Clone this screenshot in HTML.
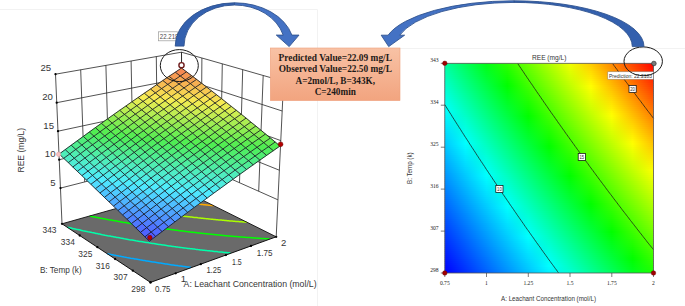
<!DOCTYPE html><html><head><meta charset="utf-8"><style>html,body{margin:0;padding:0;background:#fff;overflow:hidden}svg{display:block}</style></head><body><svg width="685" height="306" viewBox="0 0 685 306"><defs><linearGradient id="g0"><stop offset="0.0" stop-color="#00ffa1"/><stop offset="0.1" stop-color="#00ff5c"/><stop offset="0.2" stop-color="#00ff16"/><stop offset="0.3" stop-color="#2cff00"/><stop offset="0.4" stop-color="#6dff00"/><stop offset="0.5" stop-color="#aeff00"/><stop offset="0.6" stop-color="#f0ff00"/><stop offset="0.7" stop-color="#ffcc00"/><stop offset="0.8" stop-color="#ff8900"/><stop offset="0.9" stop-color="#ff4600"/><stop offset="1.0" stop-color="#ff0200"/></linearGradient><linearGradient id="g1"><stop offset="0.0" stop-color="#00ffa5"/><stop offset="0.1" stop-color="#00ff60"/><stop offset="0.2" stop-color="#00ff1b"/><stop offset="0.3" stop-color="#28ff00"/><stop offset="0.4" stop-color="#68ff00"/><stop offset="0.5" stop-color="#aaff00"/><stop offset="0.6" stop-color="#ecff00"/><stop offset="0.7" stop-color="#ffd000"/><stop offset="0.8" stop-color="#ff8e00"/><stop offset="0.9" stop-color="#ff4a00"/><stop offset="1.0" stop-color="#ff0700"/></linearGradient><linearGradient id="g2"><stop offset="0.0" stop-color="#00ffa9"/><stop offset="0.1" stop-color="#00ff64"/><stop offset="0.2" stop-color="#00ff1f"/><stop offset="0.3" stop-color="#24ff00"/><stop offset="0.4" stop-color="#64ff00"/><stop offset="0.5" stop-color="#a5ff00"/><stop offset="0.6" stop-color="#e7ff00"/><stop offset="0.7" stop-color="#ffd500"/><stop offset="0.8" stop-color="#ff9200"/><stop offset="0.9" stop-color="#ff4f00"/><stop offset="1.0" stop-color="#ff0c00"/></linearGradient><linearGradient id="g3"><stop offset="0.0" stop-color="#00ffad"/><stop offset="0.1" stop-color="#00ff69"/><stop offset="0.2" stop-color="#00ff23"/><stop offset="0.3" stop-color="#1fff00"/><stop offset="0.4" stop-color="#60ff00"/><stop offset="0.5" stop-color="#a1ff00"/><stop offset="0.6" stop-color="#e3ff00"/><stop offset="0.7" stop-color="#ffd900"/><stop offset="0.8" stop-color="#ff9700"/><stop offset="0.9" stop-color="#ff5400"/><stop offset="1.0" stop-color="#ff1000"/></linearGradient><linearGradient id="g4"><stop offset="0.0" stop-color="#00ffb1"/><stop offset="0.1" stop-color="#00ff6d"/><stop offset="0.2" stop-color="#00ff28"/><stop offset="0.3" stop-color="#1bff00"/><stop offset="0.4" stop-color="#5cff00"/><stop offset="0.5" stop-color="#9dff00"/><stop offset="0.6" stop-color="#deff00"/><stop offset="0.7" stop-color="#ffde00"/><stop offset="0.8" stop-color="#ff9c00"/><stop offset="0.9" stop-color="#ff5900"/><stop offset="1.0" stop-color="#ff1500"/></linearGradient><linearGradient id="g5"><stop offset="0.0" stop-color="#00ffb5"/><stop offset="0.1" stop-color="#00ff71"/><stop offset="0.2" stop-color="#00ff2c"/><stop offset="0.3" stop-color="#17ff00"/><stop offset="0.4" stop-color="#58ff00"/><stop offset="0.5" stop-color="#98ff00"/><stop offset="0.6" stop-color="#daff00"/><stop offset="0.7" stop-color="#ffe200"/><stop offset="0.8" stop-color="#ffa000"/><stop offset="0.9" stop-color="#ff5d00"/><stop offset="1.0" stop-color="#ff1a00"/></linearGradient><linearGradient id="g6"><stop offset="0.0" stop-color="#00ffb9"/><stop offset="0.1" stop-color="#00ff75"/><stop offset="0.2" stop-color="#00ff30"/><stop offset="0.3" stop-color="#13ff00"/><stop offset="0.4" stop-color="#53ff00"/><stop offset="0.5" stop-color="#94ff00"/><stop offset="0.6" stop-color="#d5ff00"/><stop offset="0.7" stop-color="#ffe700"/><stop offset="0.8" stop-color="#ffa500"/><stop offset="0.9" stop-color="#ff6200"/><stop offset="1.0" stop-color="#ff1f00"/></linearGradient><linearGradient id="g7"><stop offset="0.0" stop-color="#00ffbd"/><stop offset="0.1" stop-color="#00ff79"/><stop offset="0.2" stop-color="#00ff35"/><stop offset="0.3" stop-color="#0fff00"/><stop offset="0.4" stop-color="#4fff00"/><stop offset="0.5" stop-color="#90ff00"/><stop offset="0.6" stop-color="#d1ff00"/><stop offset="0.7" stop-color="#ffeb00"/><stop offset="0.8" stop-color="#ffa900"/><stop offset="0.9" stop-color="#ff6700"/><stop offset="1.0" stop-color="#ff2400"/></linearGradient><linearGradient id="g8"><stop offset="0.0" stop-color="#00ffc2"/><stop offset="0.1" stop-color="#00ff7e"/><stop offset="0.2" stop-color="#00ff39"/><stop offset="0.3" stop-color="#0bff00"/><stop offset="0.4" stop-color="#4bff00"/><stop offset="0.5" stop-color="#8cff00"/><stop offset="0.6" stop-color="#cdff00"/><stop offset="0.7" stop-color="#fff000"/><stop offset="0.8" stop-color="#ffae00"/><stop offset="0.9" stop-color="#ff6c00"/><stop offset="1.0" stop-color="#ff2900"/></linearGradient><linearGradient id="g9"><stop offset="0.0" stop-color="#00ffc6"/><stop offset="0.1" stop-color="#00ff82"/><stop offset="0.2" stop-color="#00ff3d"/><stop offset="0.3" stop-color="#07ff00"/><stop offset="0.4" stop-color="#47ff00"/><stop offset="0.5" stop-color="#87ff00"/><stop offset="0.6" stop-color="#c8ff00"/><stop offset="0.7" stop-color="#fff500"/><stop offset="0.8" stop-color="#ffb300"/><stop offset="0.9" stop-color="#ff7000"/><stop offset="1.0" stop-color="#ff2e00"/></linearGradient><linearGradient id="g10"><stop offset="0.0" stop-color="#00ffca"/><stop offset="0.1" stop-color="#00ff86"/><stop offset="0.2" stop-color="#00ff42"/><stop offset="0.3" stop-color="#03ff00"/><stop offset="0.4" stop-color="#43ff00"/><stop offset="0.5" stop-color="#83ff00"/><stop offset="0.6" stop-color="#c4ff00"/><stop offset="0.7" stop-color="#fff900"/><stop offset="0.8" stop-color="#ffb700"/><stop offset="0.9" stop-color="#ff7500"/><stop offset="1.0" stop-color="#ff3300"/></linearGradient><linearGradient id="g11"><stop offset="0.0" stop-color="#00ffce"/><stop offset="0.1" stop-color="#00ff8a"/><stop offset="0.2" stop-color="#00ff46"/><stop offset="0.3" stop-color="#00ff01"/><stop offset="0.4" stop-color="#3fff00"/><stop offset="0.5" stop-color="#7fff00"/><stop offset="0.6" stop-color="#bfff00"/><stop offset="0.7" stop-color="#fffe00"/><stop offset="0.8" stop-color="#ffbc00"/><stop offset="0.9" stop-color="#ff7a00"/><stop offset="1.0" stop-color="#ff3700"/></linearGradient><linearGradient id="g12"><stop offset="0.0" stop-color="#00ffd2"/><stop offset="0.1" stop-color="#00ff8e"/><stop offset="0.2" stop-color="#00ff4a"/><stop offset="0.3" stop-color="#00ff06"/><stop offset="0.4" stop-color="#3aff00"/><stop offset="0.5" stop-color="#7aff00"/><stop offset="0.6" stop-color="#bbff00"/><stop offset="0.7" stop-color="#fcff00"/><stop offset="0.8" stop-color="#ffc100"/><stop offset="0.9" stop-color="#ff7f00"/><stop offset="1.0" stop-color="#ff3c00"/></linearGradient><linearGradient id="g13"><stop offset="0.0" stop-color="#00ffd6"/><stop offset="0.1" stop-color="#00ff92"/><stop offset="0.2" stop-color="#00ff4e"/><stop offset="0.3" stop-color="#00ff0a"/><stop offset="0.4" stop-color="#36ff00"/><stop offset="0.5" stop-color="#76ff00"/><stop offset="0.6" stop-color="#b7ff00"/><stop offset="0.7" stop-color="#f7ff00"/><stop offset="0.8" stop-color="#ffc500"/><stop offset="0.9" stop-color="#ff8300"/><stop offset="1.0" stop-color="#ff4100"/></linearGradient><linearGradient id="g14"><stop offset="0.0" stop-color="#00ffda"/><stop offset="0.1" stop-color="#00ff96"/><stop offset="0.2" stop-color="#00ff53"/><stop offset="0.3" stop-color="#00ff0e"/><stop offset="0.4" stop-color="#32ff00"/><stop offset="0.5" stop-color="#72ff00"/><stop offset="0.6" stop-color="#b2ff00"/><stop offset="0.7" stop-color="#f3ff00"/><stop offset="0.8" stop-color="#ffca00"/><stop offset="0.9" stop-color="#ff8800"/><stop offset="1.0" stop-color="#ff4600"/></linearGradient><linearGradient id="g15"><stop offset="0.0" stop-color="#00ffde"/><stop offset="0.1" stop-color="#00ff9b"/><stop offset="0.2" stop-color="#00ff57"/><stop offset="0.3" stop-color="#00ff13"/><stop offset="0.4" stop-color="#2eff00"/><stop offset="0.5" stop-color="#6eff00"/><stop offset="0.6" stop-color="#aeff00"/><stop offset="0.7" stop-color="#eeff00"/><stop offset="0.8" stop-color="#ffce00"/><stop offset="0.9" stop-color="#ff8d00"/><stop offset="1.0" stop-color="#ff4b00"/></linearGradient><linearGradient id="g16"><stop offset="0.0" stop-color="#00ffe2"/><stop offset="0.1" stop-color="#00ff9f"/><stop offset="0.2" stop-color="#00ff5b"/><stop offset="0.3" stop-color="#00ff17"/><stop offset="0.4" stop-color="#2aff00"/><stop offset="0.5" stop-color="#69ff00"/><stop offset="0.6" stop-color="#a9ff00"/><stop offset="0.7" stop-color="#eaff00"/><stop offset="0.8" stop-color="#ffd300"/><stop offset="0.9" stop-color="#ff9200"/><stop offset="1.0" stop-color="#ff5000"/></linearGradient><linearGradient id="g17"><stop offset="0.0" stop-color="#00ffe6"/><stop offset="0.1" stop-color="#00ffa3"/><stop offset="0.2" stop-color="#00ff5f"/><stop offset="0.3" stop-color="#00ff1b"/><stop offset="0.4" stop-color="#26ff00"/><stop offset="0.5" stop-color="#65ff00"/><stop offset="0.6" stop-color="#a5ff00"/><stop offset="0.7" stop-color="#e6ff00"/><stop offset="0.8" stop-color="#ffd800"/><stop offset="0.9" stop-color="#ff9600"/><stop offset="1.0" stop-color="#ff5400"/></linearGradient><linearGradient id="g18"><stop offset="0.0" stop-color="#00ffea"/><stop offset="0.1" stop-color="#00ffa7"/><stop offset="0.2" stop-color="#00ff64"/><stop offset="0.3" stop-color="#00ff20"/><stop offset="0.4" stop-color="#22ff00"/><stop offset="0.5" stop-color="#61ff00"/><stop offset="0.6" stop-color="#a1ff00"/><stop offset="0.7" stop-color="#e1ff00"/><stop offset="0.8" stop-color="#ffdc00"/><stop offset="0.9" stop-color="#ff9b00"/><stop offset="1.0" stop-color="#ff5900"/></linearGradient><linearGradient id="g19"><stop offset="0.0" stop-color="#00ffee"/><stop offset="0.1" stop-color="#00ffab"/><stop offset="0.2" stop-color="#00ff68"/><stop offset="0.3" stop-color="#00ff24"/><stop offset="0.4" stop-color="#1dff00"/><stop offset="0.5" stop-color="#5dff00"/><stop offset="0.6" stop-color="#9cff00"/><stop offset="0.7" stop-color="#ddff00"/><stop offset="0.8" stop-color="#ffe100"/><stop offset="0.9" stop-color="#ffa000"/><stop offset="1.0" stop-color="#ff5e00"/></linearGradient><linearGradient id="g20"><stop offset="0.0" stop-color="#00fff2"/><stop offset="0.1" stop-color="#00ffaf"/><stop offset="0.2" stop-color="#00ff6c"/><stop offset="0.3" stop-color="#00ff28"/><stop offset="0.4" stop-color="#19ff00"/><stop offset="0.5" stop-color="#58ff00"/><stop offset="0.6" stop-color="#98ff00"/><stop offset="0.7" stop-color="#d8ff00"/><stop offset="0.8" stop-color="#ffe500"/><stop offset="0.9" stop-color="#ffa400"/><stop offset="1.0" stop-color="#ff6300"/></linearGradient><linearGradient id="g21"><stop offset="0.0" stop-color="#00fff6"/><stop offset="0.1" stop-color="#00ffb3"/><stop offset="0.2" stop-color="#00ff70"/><stop offset="0.3" stop-color="#00ff2d"/><stop offset="0.4" stop-color="#15ff00"/><stop offset="0.5" stop-color="#54ff00"/><stop offset="0.6" stop-color="#94ff00"/><stop offset="0.7" stop-color="#d4ff00"/><stop offset="0.8" stop-color="#ffea00"/><stop offset="0.9" stop-color="#ffa900"/><stop offset="1.0" stop-color="#ff6800"/></linearGradient><linearGradient id="g22"><stop offset="0.0" stop-color="#00fff9"/><stop offset="0.1" stop-color="#00ffb7"/><stop offset="0.2" stop-color="#00ff74"/><stop offset="0.3" stop-color="#00ff31"/><stop offset="0.4" stop-color="#11ff00"/><stop offset="0.5" stop-color="#50ff00"/><stop offset="0.6" stop-color="#8fff00"/><stop offset="0.7" stop-color="#cfff00"/><stop offset="0.8" stop-color="#ffee00"/><stop offset="0.9" stop-color="#ffae00"/><stop offset="1.0" stop-color="#ff6c00"/></linearGradient><linearGradient id="g23"><stop offset="0.0" stop-color="#00fffd"/><stop offset="0.1" stop-color="#00ffbb"/><stop offset="0.2" stop-color="#00ff79"/><stop offset="0.3" stop-color="#00ff35"/><stop offset="0.4" stop-color="#0dff00"/><stop offset="0.5" stop-color="#4cff00"/><stop offset="0.6" stop-color="#8bff00"/><stop offset="0.7" stop-color="#cbff00"/><stop offset="0.8" stop-color="#fff300"/><stop offset="0.9" stop-color="#ffb200"/><stop offset="1.0" stop-color="#ff7100"/></linearGradient><linearGradient id="g24"><stop offset="0.0" stop-color="#00fdff"/><stop offset="0.1" stop-color="#00ffbf"/><stop offset="0.2" stop-color="#00ff7d"/><stop offset="0.3" stop-color="#00ff3a"/><stop offset="0.4" stop-color="#09ff00"/><stop offset="0.5" stop-color="#48ff00"/><stop offset="0.6" stop-color="#87ff00"/><stop offset="0.7" stop-color="#c6ff00"/><stop offset="0.8" stop-color="#fff800"/><stop offset="0.9" stop-color="#ffb700"/><stop offset="1.0" stop-color="#ff7600"/></linearGradient><linearGradient id="g25"><stop offset="0.0" stop-color="#00faff"/><stop offset="0.1" stop-color="#00ffc3"/><stop offset="0.2" stop-color="#00ff81"/><stop offset="0.3" stop-color="#00ff3e"/><stop offset="0.4" stop-color="#05ff00"/><stop offset="0.5" stop-color="#43ff00"/><stop offset="0.6" stop-color="#82ff00"/><stop offset="0.7" stop-color="#c2ff00"/><stop offset="0.8" stop-color="#fffc00"/><stop offset="0.9" stop-color="#ffbc00"/><stop offset="1.0" stop-color="#ff7b00"/></linearGradient><linearGradient id="g26"><stop offset="0.0" stop-color="#00f6ff"/><stop offset="0.1" stop-color="#00ffc7"/><stop offset="0.2" stop-color="#00ff85"/><stop offset="0.3" stop-color="#00ff42"/><stop offset="0.4" stop-color="#01ff00"/><stop offset="0.5" stop-color="#3fff00"/><stop offset="0.6" stop-color="#7eff00"/><stop offset="0.7" stop-color="#bdff00"/><stop offset="0.8" stop-color="#fdff00"/><stop offset="0.9" stop-color="#ffc000"/><stop offset="1.0" stop-color="#ff8000"/></linearGradient><linearGradient id="g27"><stop offset="0.0" stop-color="#00f3ff"/><stop offset="0.1" stop-color="#00ffcc"/><stop offset="0.2" stop-color="#00ff89"/><stop offset="0.3" stop-color="#00ff47"/><stop offset="0.4" stop-color="#00ff04"/><stop offset="0.5" stop-color="#3bff00"/><stop offset="0.6" stop-color="#7aff00"/><stop offset="0.7" stop-color="#b9ff00"/><stop offset="0.8" stop-color="#f9ff00"/><stop offset="0.9" stop-color="#ffc500"/><stop offset="1.0" stop-color="#ff8400"/></linearGradient><linearGradient id="g28"><stop offset="0.0" stop-color="#00f0ff"/><stop offset="0.1" stop-color="#00ffd0"/><stop offset="0.2" stop-color="#00ff8e"/><stop offset="0.3" stop-color="#00ff4b"/><stop offset="0.4" stop-color="#00ff08"/><stop offset="0.5" stop-color="#37ff00"/><stop offset="0.6" stop-color="#76ff00"/><stop offset="0.7" stop-color="#b5ff00"/><stop offset="0.8" stop-color="#f4ff00"/><stop offset="0.9" stop-color="#ffca00"/><stop offset="1.0" stop-color="#ff8900"/></linearGradient><linearGradient id="g29"><stop offset="0.0" stop-color="#00ecff"/><stop offset="0.1" stop-color="#00ffd4"/><stop offset="0.2" stop-color="#00ff92"/><stop offset="0.3" stop-color="#00ff4f"/><stop offset="0.4" stop-color="#00ff0c"/><stop offset="0.5" stop-color="#33ff00"/><stop offset="0.6" stop-color="#71ff00"/><stop offset="0.7" stop-color="#b0ff00"/><stop offset="0.8" stop-color="#f0ff00"/><stop offset="0.9" stop-color="#ffce00"/><stop offset="1.0" stop-color="#ff8e00"/></linearGradient><linearGradient id="g30"><stop offset="0.0" stop-color="#00e9ff"/><stop offset="0.1" stop-color="#00ffd8"/><stop offset="0.2" stop-color="#00ff96"/><stop offset="0.3" stop-color="#00ff54"/><stop offset="0.4" stop-color="#00ff11"/><stop offset="0.5" stop-color="#2fff00"/><stop offset="0.6" stop-color="#6dff00"/><stop offset="0.7" stop-color="#acff00"/><stop offset="0.8" stop-color="#ebff00"/><stop offset="0.9" stop-color="#ffd300"/><stop offset="1.0" stop-color="#ff9300"/></linearGradient><linearGradient id="g31"><stop offset="0.0" stop-color="#00e6ff"/><stop offset="0.1" stop-color="#00ffdc"/><stop offset="0.2" stop-color="#00ff9a"/><stop offset="0.3" stop-color="#00ff58"/><stop offset="0.4" stop-color="#00ff15"/><stop offset="0.5" stop-color="#2aff00"/><stop offset="0.6" stop-color="#69ff00"/><stop offset="0.7" stop-color="#a7ff00"/><stop offset="0.8" stop-color="#e7ff00"/><stop offset="0.9" stop-color="#ffd800"/><stop offset="1.0" stop-color="#ff9700"/></linearGradient><linearGradient id="g32"><stop offset="0.0" stop-color="#00e2ff"/><stop offset="0.1" stop-color="#00ffe0"/><stop offset="0.2" stop-color="#00ff9e"/><stop offset="0.3" stop-color="#00ff5c"/><stop offset="0.4" stop-color="#00ff1a"/><stop offset="0.5" stop-color="#26ff00"/><stop offset="0.6" stop-color="#64ff00"/><stop offset="0.7" stop-color="#a3ff00"/><stop offset="0.8" stop-color="#e2ff00"/><stop offset="0.9" stop-color="#ffdc00"/><stop offset="1.0" stop-color="#ff9c00"/></linearGradient><linearGradient id="g33"><stop offset="0.0" stop-color="#00dfff"/><stop offset="0.1" stop-color="#00ffe4"/><stop offset="0.2" stop-color="#00ffa2"/><stop offset="0.3" stop-color="#00ff60"/><stop offset="0.4" stop-color="#00ff1e"/><stop offset="0.5" stop-color="#22ff00"/><stop offset="0.6" stop-color="#60ff00"/><stop offset="0.7" stop-color="#9fff00"/><stop offset="0.8" stop-color="#deff00"/><stop offset="0.9" stop-color="#ffe100"/><stop offset="1.0" stop-color="#ffa100"/></linearGradient><linearGradient id="g34"><stop offset="0.0" stop-color="#00dcff"/><stop offset="0.1" stop-color="#00ffe8"/><stop offset="0.2" stop-color="#00ffa6"/><stop offset="0.3" stop-color="#00ff65"/><stop offset="0.4" stop-color="#00ff22"/><stop offset="0.5" stop-color="#1eff00"/><stop offset="0.6" stop-color="#5cff00"/><stop offset="0.7" stop-color="#9aff00"/><stop offset="0.8" stop-color="#d9ff00"/><stop offset="0.9" stop-color="#ffe500"/><stop offset="1.0" stop-color="#ffa500"/></linearGradient><linearGradient id="g35"><stop offset="0.0" stop-color="#00d8ff"/><stop offset="0.1" stop-color="#00ffec"/><stop offset="0.2" stop-color="#00ffab"/><stop offset="0.3" stop-color="#00ff69"/><stop offset="0.4" stop-color="#00ff27"/><stop offset="0.5" stop-color="#1aff00"/><stop offset="0.6" stop-color="#58ff00"/><stop offset="0.7" stop-color="#96ff00"/><stop offset="0.8" stop-color="#d5ff00"/><stop offset="0.9" stop-color="#ffea00"/><stop offset="1.0" stop-color="#ffaa00"/></linearGradient><linearGradient id="g36"><stop offset="0.0" stop-color="#00d5ff"/><stop offset="0.1" stop-color="#00fff0"/><stop offset="0.2" stop-color="#00ffaf"/><stop offset="0.3" stop-color="#00ff6d"/><stop offset="0.4" stop-color="#00ff2b"/><stop offset="0.5" stop-color="#16ff00"/><stop offset="0.6" stop-color="#53ff00"/><stop offset="0.7" stop-color="#92ff00"/><stop offset="0.8" stop-color="#d0ff00"/><stop offset="0.9" stop-color="#ffef00"/><stop offset="1.0" stop-color="#ffaf00"/></linearGradient><linearGradient id="g37"><stop offset="0.0" stop-color="#00d2ff"/><stop offset="0.1" stop-color="#00fff4"/><stop offset="0.2" stop-color="#00ffb3"/><stop offset="0.3" stop-color="#00ff71"/><stop offset="0.4" stop-color="#00ff2f"/><stop offset="0.5" stop-color="#12ff00"/><stop offset="0.6" stop-color="#4fff00"/><stop offset="0.7" stop-color="#8dff00"/><stop offset="0.8" stop-color="#ccff00"/><stop offset="0.9" stop-color="#fff300"/><stop offset="1.0" stop-color="#ffb400"/></linearGradient><linearGradient id="g38"><stop offset="0.0" stop-color="#00ceff"/><stop offset="0.1" stop-color="#00fff8"/><stop offset="0.2" stop-color="#00ffb7"/><stop offset="0.3" stop-color="#00ff76"/><stop offset="0.4" stop-color="#00ff34"/><stop offset="0.5" stop-color="#0dff00"/><stop offset="0.6" stop-color="#4bff00"/><stop offset="0.7" stop-color="#89ff00"/><stop offset="0.8" stop-color="#c7ff00"/><stop offset="0.9" stop-color="#fff800"/><stop offset="1.0" stop-color="#ffb800"/></linearGradient><linearGradient id="g39"><stop offset="0.0" stop-color="#00cbff"/><stop offset="0.1" stop-color="#00fffc"/><stop offset="0.2" stop-color="#00ffbb"/><stop offset="0.3" stop-color="#00ff7a"/><stop offset="0.4" stop-color="#00ff38"/><stop offset="0.5" stop-color="#09ff00"/><stop offset="0.6" stop-color="#47ff00"/><stop offset="0.7" stop-color="#85ff00"/><stop offset="0.8" stop-color="#c3ff00"/><stop offset="0.9" stop-color="#fffc00"/><stop offset="1.0" stop-color="#ffbd00"/></linearGradient><linearGradient id="g40"><stop offset="0.0" stop-color="#00c8ff"/><stop offset="0.1" stop-color="#00feff"/><stop offset="0.2" stop-color="#00ffbf"/><stop offset="0.3" stop-color="#00ff7e"/><stop offset="0.4" stop-color="#00ff3c"/><stop offset="0.5" stop-color="#05ff00"/><stop offset="0.6" stop-color="#42ff00"/><stop offset="0.7" stop-color="#80ff00"/><stop offset="0.8" stop-color="#beff00"/><stop offset="0.9" stop-color="#fdff00"/><stop offset="1.0" stop-color="#ffc200"/></linearGradient><linearGradient id="g41"><stop offset="0.0" stop-color="#00c5ff"/><stop offset="0.1" stop-color="#00fbff"/><stop offset="0.2" stop-color="#00ffc3"/><stop offset="0.3" stop-color="#00ff82"/><stop offset="0.4" stop-color="#00ff41"/><stop offset="0.5" stop-color="#01ff00"/><stop offset="0.6" stop-color="#3eff00"/><stop offset="0.7" stop-color="#7cff00"/><stop offset="0.8" stop-color="#baff00"/><stop offset="0.9" stop-color="#f9ff00"/><stop offset="1.0" stop-color="#ffc600"/></linearGradient><linearGradient id="g42"><stop offset="0.0" stop-color="#00c1ff"/><stop offset="0.1" stop-color="#00f8ff"/><stop offset="0.2" stop-color="#00ffc7"/><stop offset="0.3" stop-color="#00ff86"/><stop offset="0.4" stop-color="#00ff45"/><stop offset="0.5" stop-color="#00ff03"/><stop offset="0.6" stop-color="#3aff00"/><stop offset="0.7" stop-color="#78ff00"/><stop offset="0.8" stop-color="#b6ff00"/><stop offset="0.9" stop-color="#f4ff00"/><stop offset="1.0" stop-color="#ffcb00"/></linearGradient><linearGradient id="g43"><stop offset="0.0" stop-color="#00beff"/><stop offset="0.1" stop-color="#00f4ff"/><stop offset="0.2" stop-color="#00ffcb"/><stop offset="0.3" stop-color="#00ff8b"/><stop offset="0.4" stop-color="#00ff49"/><stop offset="0.5" stop-color="#00ff08"/><stop offset="0.6" stop-color="#36ff00"/><stop offset="0.7" stop-color="#73ff00"/><stop offset="0.8" stop-color="#b1ff00"/><stop offset="0.9" stop-color="#efff00"/><stop offset="1.0" stop-color="#ffd000"/></linearGradient><linearGradient id="g44"><stop offset="0.0" stop-color="#00bbff"/><stop offset="0.1" stop-color="#00f1ff"/><stop offset="0.2" stop-color="#00ffcf"/><stop offset="0.3" stop-color="#00ff8f"/><stop offset="0.4" stop-color="#00ff4e"/><stop offset="0.5" stop-color="#00ff0c"/><stop offset="0.6" stop-color="#32ff00"/><stop offset="0.7" stop-color="#6fff00"/><stop offset="0.8" stop-color="#adff00"/><stop offset="0.9" stop-color="#ebff00"/><stop offset="1.0" stop-color="#ffd400"/></linearGradient><linearGradient id="g45"><stop offset="0.0" stop-color="#00b8ff"/><stop offset="0.1" stop-color="#00eeff"/><stop offset="0.2" stop-color="#00ffd3"/><stop offset="0.3" stop-color="#00ff93"/><stop offset="0.4" stop-color="#00ff52"/><stop offset="0.5" stop-color="#00ff11"/><stop offset="0.6" stop-color="#2dff00"/><stop offset="0.7" stop-color="#6bff00"/><stop offset="0.8" stop-color="#a8ff00"/><stop offset="0.9" stop-color="#e6ff00"/><stop offset="1.0" stop-color="#ffd900"/></linearGradient><linearGradient id="g46"><stop offset="0.0" stop-color="#00b4ff"/><stop offset="0.1" stop-color="#00eaff"/><stop offset="0.2" stop-color="#00ffd8"/><stop offset="0.3" stop-color="#00ff97"/><stop offset="0.4" stop-color="#00ff56"/><stop offset="0.5" stop-color="#00ff15"/><stop offset="0.6" stop-color="#29ff00"/><stop offset="0.7" stop-color="#66ff00"/><stop offset="0.8" stop-color="#a4ff00"/><stop offset="0.9" stop-color="#e2ff00"/><stop offset="1.0" stop-color="#ffde00"/></linearGradient><linearGradient id="g47"><stop offset="0.0" stop-color="#00b1ff"/><stop offset="0.1" stop-color="#00e7ff"/><stop offset="0.2" stop-color="#00ffdc"/><stop offset="0.3" stop-color="#00ff9b"/><stop offset="0.4" stop-color="#00ff5b"/><stop offset="0.5" stop-color="#00ff1a"/><stop offset="0.6" stop-color="#25ff00"/><stop offset="0.7" stop-color="#62ff00"/><stop offset="0.8" stop-color="#9fff00"/><stop offset="0.9" stop-color="#ddff00"/><stop offset="1.0" stop-color="#ffe200"/></linearGradient><linearGradient id="g48"><stop offset="0.0" stop-color="#00aeff"/><stop offset="0.1" stop-color="#00e4ff"/><stop offset="0.2" stop-color="#00ffe0"/><stop offset="0.3" stop-color="#00ffa0"/><stop offset="0.4" stop-color="#00ff5f"/><stop offset="0.5" stop-color="#00ff1e"/><stop offset="0.6" stop-color="#21ff00"/><stop offset="0.7" stop-color="#5eff00"/><stop offset="0.8" stop-color="#9bff00"/><stop offset="0.9" stop-color="#d9ff00"/><stop offset="1.0" stop-color="#ffe700"/></linearGradient><linearGradient id="g49"><stop offset="0.0" stop-color="#00abff"/><stop offset="0.1" stop-color="#00e0ff"/><stop offset="0.2" stop-color="#00ffe4"/><stop offset="0.3" stop-color="#00ffa4"/><stop offset="0.4" stop-color="#00ff63"/><stop offset="0.5" stop-color="#00ff22"/><stop offset="0.6" stop-color="#1dff00"/><stop offset="0.7" stop-color="#59ff00"/><stop offset="0.8" stop-color="#97ff00"/><stop offset="0.9" stop-color="#d4ff00"/><stop offset="1.0" stop-color="#ffec00"/></linearGradient><linearGradient id="g50"><stop offset="0.0" stop-color="#00a7ff"/><stop offset="0.1" stop-color="#00ddff"/><stop offset="0.2" stop-color="#00ffe8"/><stop offset="0.3" stop-color="#00ffa8"/><stop offset="0.4" stop-color="#00ff68"/><stop offset="0.5" stop-color="#00ff27"/><stop offset="0.6" stop-color="#18ff00"/><stop offset="0.7" stop-color="#55ff00"/><stop offset="0.8" stop-color="#92ff00"/><stop offset="0.9" stop-color="#d0ff00"/><stop offset="1.0" stop-color="#fff000"/></linearGradient><linearGradient id="g51"><stop offset="0.0" stop-color="#00a4ff"/><stop offset="0.1" stop-color="#00daff"/><stop offset="0.2" stop-color="#00ffec"/><stop offset="0.3" stop-color="#00ffac"/><stop offset="0.4" stop-color="#00ff6c"/><stop offset="0.5" stop-color="#00ff2b"/><stop offset="0.6" stop-color="#14ff00"/><stop offset="0.7" stop-color="#51ff00"/><stop offset="0.8" stop-color="#8eff00"/><stop offset="0.9" stop-color="#cbff00"/><stop offset="1.0" stop-color="#fff500"/></linearGradient><linearGradient id="g52"><stop offset="0.0" stop-color="#00a1ff"/><stop offset="0.1" stop-color="#00d6ff"/><stop offset="0.2" stop-color="#00fff0"/><stop offset="0.3" stop-color="#00ffb0"/><stop offset="0.4" stop-color="#00ff70"/><stop offset="0.5" stop-color="#00ff30"/><stop offset="0.6" stop-color="#10ff00"/><stop offset="0.7" stop-color="#4dff00"/><stop offset="0.8" stop-color="#89ff00"/><stop offset="0.9" stop-color="#c7ff00"/><stop offset="1.0" stop-color="#fff900"/></linearGradient><linearGradient id="g53"><stop offset="0.0" stop-color="#009eff"/><stop offset="0.1" stop-color="#00d3ff"/><stop offset="0.2" stop-color="#00fff4"/><stop offset="0.3" stop-color="#00ffb4"/><stop offset="0.4" stop-color="#00ff74"/><stop offset="0.5" stop-color="#00ff34"/><stop offset="0.6" stop-color="#0cff00"/><stop offset="0.7" stop-color="#48ff00"/><stop offset="0.8" stop-color="#85ff00"/><stop offset="0.9" stop-color="#c2ff00"/><stop offset="1.0" stop-color="#fffe00"/></linearGradient><linearGradient id="g54"><stop offset="0.0" stop-color="#009bff"/><stop offset="0.1" stop-color="#00d0ff"/><stop offset="0.2" stop-color="#00fff8"/><stop offset="0.3" stop-color="#00ffb8"/><stop offset="0.4" stop-color="#00ff79"/><stop offset="0.5" stop-color="#00ff38"/><stop offset="0.6" stop-color="#08ff00"/><stop offset="0.7" stop-color="#44ff00"/><stop offset="0.8" stop-color="#81ff00"/><stop offset="0.9" stop-color="#beff00"/><stop offset="1.0" stop-color="#fbff00"/></linearGradient><linearGradient id="g55"><stop offset="0.0" stop-color="#0097ff"/><stop offset="0.1" stop-color="#00ccff"/><stop offset="0.2" stop-color="#00fffc"/><stop offset="0.3" stop-color="#00ffbd"/><stop offset="0.4" stop-color="#00ff7d"/><stop offset="0.5" stop-color="#00ff3d"/><stop offset="0.6" stop-color="#04ff00"/><stop offset="0.7" stop-color="#40ff00"/><stop offset="0.8" stop-color="#7cff00"/><stop offset="0.9" stop-color="#b9ff00"/><stop offset="1.0" stop-color="#f7ff00"/></linearGradient><linearGradient id="g56"><stop offset="0.0" stop-color="#0094ff"/><stop offset="0.1" stop-color="#00c9ff"/><stop offset="0.2" stop-color="#00feff"/><stop offset="0.3" stop-color="#00ffc1"/><stop offset="0.4" stop-color="#00ff81"/><stop offset="0.5" stop-color="#00ff41"/><stop offset="0.6" stop-color="#00ff00"/><stop offset="0.7" stop-color="#3cff00"/><stop offset="0.8" stop-color="#78ff00"/><stop offset="0.9" stop-color="#b5ff00"/><stop offset="1.0" stop-color="#f2ff00"/></linearGradient><linearGradient id="g57"><stop offset="0.0" stop-color="#0091ff"/><stop offset="0.1" stop-color="#00c6ff"/><stop offset="0.2" stop-color="#00fbff"/><stop offset="0.3" stop-color="#00ffc5"/><stop offset="0.4" stop-color="#00ff85"/><stop offset="0.5" stop-color="#00ff45"/><stop offset="0.6" stop-color="#00ff05"/><stop offset="0.7" stop-color="#37ff00"/><stop offset="0.8" stop-color="#74ff00"/><stop offset="0.9" stop-color="#b0ff00"/><stop offset="1.0" stop-color="#eeff00"/></linearGradient><linearGradient id="g58"><stop offset="0.0" stop-color="#008eff"/><stop offset="0.1" stop-color="#00c3ff"/><stop offset="0.2" stop-color="#00f8ff"/><stop offset="0.3" stop-color="#00ffc9"/><stop offset="0.4" stop-color="#00ff8a"/><stop offset="0.5" stop-color="#00ff4a"/><stop offset="0.6" stop-color="#00ff09"/><stop offset="0.7" stop-color="#33ff00"/><stop offset="0.8" stop-color="#6fff00"/><stop offset="0.9" stop-color="#acff00"/><stop offset="1.0" stop-color="#e9ff00"/></linearGradient><linearGradient id="g59"><stop offset="0.0" stop-color="#008bff"/><stop offset="0.1" stop-color="#00bfff"/><stop offset="0.2" stop-color="#00f4ff"/><stop offset="0.3" stop-color="#00ffcd"/><stop offset="0.4" stop-color="#00ff8e"/><stop offset="0.5" stop-color="#00ff4e"/><stop offset="0.6" stop-color="#00ff0e"/><stop offset="0.7" stop-color="#2fff00"/><stop offset="0.8" stop-color="#6bff00"/><stop offset="0.9" stop-color="#a7ff00"/><stop offset="1.0" stop-color="#e4ff00"/></linearGradient><linearGradient id="g60"><stop offset="0.0" stop-color="#0088ff"/><stop offset="0.1" stop-color="#00bcff"/><stop offset="0.2" stop-color="#00f1ff"/><stop offset="0.3" stop-color="#00ffd1"/><stop offset="0.4" stop-color="#00ff92"/><stop offset="0.5" stop-color="#00ff52"/><stop offset="0.6" stop-color="#00ff12"/><stop offset="0.7" stop-color="#2bff00"/><stop offset="0.8" stop-color="#67ff00"/><stop offset="0.9" stop-color="#a3ff00"/><stop offset="1.0" stop-color="#e0ff00"/></linearGradient><linearGradient id="g61"><stop offset="0.0" stop-color="#0084ff"/><stop offset="0.1" stop-color="#00b9ff"/><stop offset="0.2" stop-color="#00edff"/><stop offset="0.3" stop-color="#00ffd5"/><stop offset="0.4" stop-color="#00ff96"/><stop offset="0.5" stop-color="#00ff57"/><stop offset="0.6" stop-color="#00ff17"/><stop offset="0.7" stop-color="#26ff00"/><stop offset="0.8" stop-color="#62ff00"/><stop offset="0.9" stop-color="#9eff00"/><stop offset="1.0" stop-color="#dbff00"/></linearGradient><linearGradient id="g62"><stop offset="0.0" stop-color="#0081ff"/><stop offset="0.1" stop-color="#00b5ff"/><stop offset="0.2" stop-color="#00eaff"/><stop offset="0.3" stop-color="#00ffd9"/><stop offset="0.4" stop-color="#00ff9a"/><stop offset="0.5" stop-color="#00ff5b"/><stop offset="0.6" stop-color="#00ff1b"/><stop offset="0.7" stop-color="#22ff00"/><stop offset="0.8" stop-color="#5eff00"/><stop offset="0.9" stop-color="#9aff00"/><stop offset="1.0" stop-color="#d7ff00"/></linearGradient><linearGradient id="g63"><stop offset="0.0" stop-color="#007eff"/><stop offset="0.1" stop-color="#00b2ff"/><stop offset="0.2" stop-color="#00e7ff"/><stop offset="0.3" stop-color="#00ffdd"/><stop offset="0.4" stop-color="#00ff9f"/><stop offset="0.5" stop-color="#00ff5f"/><stop offset="0.6" stop-color="#00ff20"/><stop offset="0.7" stop-color="#1eff00"/><stop offset="0.8" stop-color="#5aff00"/><stop offset="0.9" stop-color="#96ff00"/><stop offset="1.0" stop-color="#d2ff00"/></linearGradient><linearGradient id="g64"><stop offset="0.0" stop-color="#007bff"/><stop offset="0.1" stop-color="#00afff"/><stop offset="0.2" stop-color="#00e3ff"/><stop offset="0.3" stop-color="#00ffe1"/><stop offset="0.4" stop-color="#00ffa3"/><stop offset="0.5" stop-color="#00ff64"/><stop offset="0.6" stop-color="#00ff24"/><stop offset="0.7" stop-color="#1aff00"/><stop offset="0.8" stop-color="#55ff00"/><stop offset="0.9" stop-color="#91ff00"/><stop offset="1.0" stop-color="#ceff00"/></linearGradient><linearGradient id="g65"><stop offset="0.0" stop-color="#0078ff"/><stop offset="0.1" stop-color="#00acff"/><stop offset="0.2" stop-color="#00e0ff"/><stop offset="0.3" stop-color="#00ffe5"/><stop offset="0.4" stop-color="#00ffa7"/><stop offset="0.5" stop-color="#00ff68"/><stop offset="0.6" stop-color="#00ff29"/><stop offset="0.7" stop-color="#16ff00"/><stop offset="0.8" stop-color="#51ff00"/><stop offset="0.9" stop-color="#8dff00"/><stop offset="1.0" stop-color="#c9ff00"/></linearGradient><linearGradient id="g66"><stop offset="0.0" stop-color="#0075ff"/><stop offset="0.1" stop-color="#00a8ff"/><stop offset="0.2" stop-color="#00ddff"/><stop offset="0.3" stop-color="#00ffea"/><stop offset="0.4" stop-color="#00ffab"/><stop offset="0.5" stop-color="#00ff6c"/><stop offset="0.6" stop-color="#00ff2d"/><stop offset="0.7" stop-color="#11ff00"/><stop offset="0.8" stop-color="#4dff00"/><stop offset="0.9" stop-color="#88ff00"/><stop offset="1.0" stop-color="#c4ff00"/></linearGradient><linearGradient id="g67"><stop offset="0.0" stop-color="#0072ff"/><stop offset="0.1" stop-color="#00a5ff"/><stop offset="0.2" stop-color="#00d9ff"/><stop offset="0.3" stop-color="#00ffee"/><stop offset="0.4" stop-color="#00ffaf"/><stop offset="0.5" stop-color="#00ff71"/><stop offset="0.6" stop-color="#00ff31"/><stop offset="0.7" stop-color="#0dff00"/><stop offset="0.8" stop-color="#48ff00"/><stop offset="0.9" stop-color="#84ff00"/><stop offset="1.0" stop-color="#c0ff00"/></linearGradient><linearGradient id="g68"><stop offset="0.0" stop-color="#006eff"/><stop offset="0.1" stop-color="#00a2ff"/><stop offset="0.2" stop-color="#00d6ff"/><stop offset="0.3" stop-color="#00fff2"/><stop offset="0.4" stop-color="#00ffb4"/><stop offset="0.5" stop-color="#00ff75"/><stop offset="0.6" stop-color="#00ff36"/><stop offset="0.7" stop-color="#09ff00"/><stop offset="0.8" stop-color="#44ff00"/><stop offset="0.9" stop-color="#7fff00"/><stop offset="1.0" stop-color="#bbff00"/></linearGradient><linearGradient id="g69"><stop offset="0.0" stop-color="#006bff"/><stop offset="0.1" stop-color="#009fff"/><stop offset="0.2" stop-color="#00d3ff"/><stop offset="0.3" stop-color="#00fff6"/><stop offset="0.4" stop-color="#00ffb8"/><stop offset="0.5" stop-color="#00ff79"/><stop offset="0.6" stop-color="#00ff3a"/><stop offset="0.7" stop-color="#05ff00"/><stop offset="0.8" stop-color="#40ff00"/><stop offset="0.9" stop-color="#7bff00"/><stop offset="1.0" stop-color="#b7ff00"/></linearGradient><linearGradient id="g70"><stop offset="0.0" stop-color="#0068ff"/><stop offset="0.1" stop-color="#009cff"/><stop offset="0.2" stop-color="#00cfff"/><stop offset="0.3" stop-color="#00fffa"/><stop offset="0.4" stop-color="#00ffbc"/><stop offset="0.5" stop-color="#00ff7e"/><stop offset="0.6" stop-color="#00ff3f"/><stop offset="0.7" stop-color="#01ff00"/><stop offset="0.8" stop-color="#3bff00"/><stop offset="0.9" stop-color="#77ff00"/><stop offset="1.0" stop-color="#b2ff00"/></linearGradient><linearGradient id="g71"><stop offset="0.0" stop-color="#0065ff"/><stop offset="0.1" stop-color="#0098ff"/><stop offset="0.2" stop-color="#00ccff"/><stop offset="0.3" stop-color="#00fffe"/><stop offset="0.4" stop-color="#00ffc0"/><stop offset="0.5" stop-color="#00ff82"/><stop offset="0.6" stop-color="#00ff43"/><stop offset="0.7" stop-color="#00ff04"/><stop offset="0.8" stop-color="#37ff00"/><stop offset="0.9" stop-color="#72ff00"/><stop offset="1.0" stop-color="#aeff00"/></linearGradient><linearGradient id="g72"><stop offset="0.0" stop-color="#0062ff"/><stop offset="0.1" stop-color="#0095ff"/><stop offset="0.2" stop-color="#00c9ff"/><stop offset="0.3" stop-color="#00fdff"/><stop offset="0.4" stop-color="#00ffc4"/><stop offset="0.5" stop-color="#00ff86"/><stop offset="0.6" stop-color="#00ff47"/><stop offset="0.7" stop-color="#00ff08"/><stop offset="0.8" stop-color="#33ff00"/><stop offset="0.9" stop-color="#6eff00"/><stop offset="1.0" stop-color="#a9ff00"/></linearGradient><linearGradient id="g73"><stop offset="0.0" stop-color="#005fff"/><stop offset="0.1" stop-color="#0092ff"/><stop offset="0.2" stop-color="#00c5ff"/><stop offset="0.3" stop-color="#00f9ff"/><stop offset="0.4" stop-color="#00ffc8"/><stop offset="0.5" stop-color="#00ff8a"/><stop offset="0.6" stop-color="#00ff4c"/><stop offset="0.7" stop-color="#00ff0d"/><stop offset="0.8" stop-color="#2fff00"/><stop offset="0.9" stop-color="#6aff00"/><stop offset="1.0" stop-color="#a5ff00"/></linearGradient><linearGradient id="g74"><stop offset="0.0" stop-color="#005cff"/><stop offset="0.1" stop-color="#008fff"/><stop offset="0.2" stop-color="#00c2ff"/><stop offset="0.3" stop-color="#00f6ff"/><stop offset="0.4" stop-color="#00ffcc"/><stop offset="0.5" stop-color="#00ff8f"/><stop offset="0.6" stop-color="#00ff50"/><stop offset="0.7" stop-color="#00ff11"/><stop offset="0.8" stop-color="#2aff00"/><stop offset="0.9" stop-color="#65ff00"/><stop offset="1.0" stop-color="#a0ff00"/></linearGradient><linearGradient id="g75"><stop offset="0.0" stop-color="#0059ff"/><stop offset="0.1" stop-color="#008bff"/><stop offset="0.2" stop-color="#00bfff"/><stop offset="0.3" stop-color="#00f2ff"/><stop offset="0.4" stop-color="#00ffd1"/><stop offset="0.5" stop-color="#00ff93"/><stop offset="0.6" stop-color="#00ff55"/><stop offset="0.7" stop-color="#00ff16"/><stop offset="0.8" stop-color="#26ff00"/><stop offset="0.9" stop-color="#61ff00"/><stop offset="1.0" stop-color="#9cff00"/></linearGradient><linearGradient id="g76"><stop offset="0.0" stop-color="#0056ff"/><stop offset="0.1" stop-color="#0088ff"/><stop offset="0.2" stop-color="#00bbff"/><stop offset="0.3" stop-color="#00efff"/><stop offset="0.4" stop-color="#00ffd5"/><stop offset="0.5" stop-color="#00ff97"/><stop offset="0.6" stop-color="#00ff59"/><stop offset="0.7" stop-color="#00ff1a"/><stop offset="0.8" stop-color="#22ff00"/><stop offset="0.9" stop-color="#5cff00"/><stop offset="1.0" stop-color="#97ff00"/></linearGradient><linearGradient id="g77"><stop offset="0.0" stop-color="#0053ff"/><stop offset="0.1" stop-color="#0085ff"/><stop offset="0.2" stop-color="#00b8ff"/><stop offset="0.3" stop-color="#00ecff"/><stop offset="0.4" stop-color="#00ffd9"/><stop offset="0.5" stop-color="#00ff9b"/><stop offset="0.6" stop-color="#00ff5d"/><stop offset="0.7" stop-color="#00ff1f"/><stop offset="0.8" stop-color="#1eff00"/><stop offset="0.9" stop-color="#58ff00"/><stop offset="1.0" stop-color="#93ff00"/></linearGradient><linearGradient id="g78"><stop offset="0.0" stop-color="#004fff"/><stop offset="0.1" stop-color="#0082ff"/><stop offset="0.2" stop-color="#00b5ff"/><stop offset="0.3" stop-color="#00e8ff"/><stop offset="0.4" stop-color="#00ffdd"/><stop offset="0.5" stop-color="#00ffa0"/><stop offset="0.6" stop-color="#00ff62"/><stop offset="0.7" stop-color="#00ff23"/><stop offset="0.8" stop-color="#19ff00"/><stop offset="0.9" stop-color="#54ff00"/><stop offset="1.0" stop-color="#8fff00"/></linearGradient><linearGradient id="g79"><stop offset="0.0" stop-color="#004cff"/><stop offset="0.1" stop-color="#007fff"/><stop offset="0.2" stop-color="#00b2ff"/><stop offset="0.3" stop-color="#00e5ff"/><stop offset="0.4" stop-color="#00ffe1"/><stop offset="0.5" stop-color="#00ffa4"/><stop offset="0.6" stop-color="#00ff66"/><stop offset="0.7" stop-color="#00ff28"/><stop offset="0.8" stop-color="#15ff00"/><stop offset="0.9" stop-color="#4fff00"/><stop offset="1.0" stop-color="#8aff00"/></linearGradient><linearGradient id="g80"><stop offset="0.0" stop-color="#0049ff"/><stop offset="0.1" stop-color="#007cff"/><stop offset="0.2" stop-color="#00aeff"/><stop offset="0.3" stop-color="#00e1ff"/><stop offset="0.4" stop-color="#00ffe5"/><stop offset="0.5" stop-color="#00ffa8"/><stop offset="0.6" stop-color="#00ff6a"/><stop offset="0.7" stop-color="#00ff2c"/><stop offset="0.8" stop-color="#11ff00"/><stop offset="0.9" stop-color="#4bff00"/><stop offset="1.0" stop-color="#86ff00"/></linearGradient><linearGradient id="g81"><stop offset="0.0" stop-color="#0046ff"/><stop offset="0.1" stop-color="#0078ff"/><stop offset="0.2" stop-color="#00abff"/><stop offset="0.3" stop-color="#00deff"/><stop offset="0.4" stop-color="#00ffe9"/><stop offset="0.5" stop-color="#00ffac"/><stop offset="0.6" stop-color="#00ff6f"/><stop offset="0.7" stop-color="#00ff31"/><stop offset="0.8" stop-color="#0dff00"/><stop offset="0.9" stop-color="#47ff00"/><stop offset="1.0" stop-color="#81ff00"/></linearGradient><linearGradient id="g82"><stop offset="0.0" stop-color="#0043ff"/><stop offset="0.1" stop-color="#0075ff"/><stop offset="0.2" stop-color="#00a8ff"/><stop offset="0.3" stop-color="#00dbff"/><stop offset="0.4" stop-color="#00ffed"/><stop offset="0.5" stop-color="#00ffb0"/><stop offset="0.6" stop-color="#00ff73"/><stop offset="0.7" stop-color="#00ff35"/><stop offset="0.8" stop-color="#08ff00"/><stop offset="0.9" stop-color="#42ff00"/><stop offset="1.0" stop-color="#7dff00"/></linearGradient><linearGradient id="g83"><stop offset="0.0" stop-color="#0040ff"/><stop offset="0.1" stop-color="#0072ff"/><stop offset="0.2" stop-color="#00a5ff"/><stop offset="0.3" stop-color="#00d7ff"/><stop offset="0.4" stop-color="#00fff1"/><stop offset="0.5" stop-color="#00ffb5"/><stop offset="0.6" stop-color="#00ff77"/><stop offset="0.7" stop-color="#00ff3a"/><stop offset="0.8" stop-color="#04ff00"/><stop offset="0.9" stop-color="#3eff00"/><stop offset="1.0" stop-color="#78ff00"/></linearGradient><linearGradient id="g84"><stop offset="0.0" stop-color="#003dff"/><stop offset="0.1" stop-color="#006fff"/><stop offset="0.2" stop-color="#00a1ff"/><stop offset="0.3" stop-color="#00d4ff"/><stop offset="0.4" stop-color="#00fff5"/><stop offset="0.5" stop-color="#00ffb9"/><stop offset="0.6" stop-color="#00ff7c"/><stop offset="0.7" stop-color="#00ff3e"/><stop offset="0.8" stop-color="#00ff00"/><stop offset="0.9" stop-color="#3aff00"/><stop offset="1.0" stop-color="#74ff00"/></linearGradient><linearGradient id="g85"><stop offset="0.0" stop-color="#003aff"/><stop offset="0.1" stop-color="#006cff"/><stop offset="0.2" stop-color="#009eff"/><stop offset="0.3" stop-color="#00d1ff"/><stop offset="0.4" stop-color="#00fff9"/><stop offset="0.5" stop-color="#00ffbd"/><stop offset="0.6" stop-color="#00ff80"/><stop offset="0.7" stop-color="#00ff43"/><stop offset="0.8" stop-color="#00ff05"/><stop offset="0.9" stop-color="#35ff00"/><stop offset="1.0" stop-color="#6fff00"/></linearGradient><linearGradient id="g86"><stop offset="0.0" stop-color="#0037ff"/><stop offset="0.1" stop-color="#0069ff"/><stop offset="0.2" stop-color="#009bff"/><stop offset="0.3" stop-color="#00cdff"/><stop offset="0.4" stop-color="#00fffe"/><stop offset="0.5" stop-color="#00ffc1"/><stop offset="0.6" stop-color="#00ff84"/><stop offset="0.7" stop-color="#00ff47"/><stop offset="0.8" stop-color="#00ff09"/><stop offset="0.9" stop-color="#31ff00"/><stop offset="1.0" stop-color="#6bff00"/></linearGradient><linearGradient id="g87"><stop offset="0.0" stop-color="#0034ff"/><stop offset="0.1" stop-color="#0066ff"/><stop offset="0.2" stop-color="#0098ff"/><stop offset="0.3" stop-color="#00caff"/><stop offset="0.4" stop-color="#00fdff"/><stop offset="0.5" stop-color="#00ffc5"/><stop offset="0.6" stop-color="#00ff89"/><stop offset="0.7" stop-color="#00ff4b"/><stop offset="0.8" stop-color="#00ff0e"/><stop offset="0.9" stop-color="#2dff00"/><stop offset="1.0" stop-color="#67ff00"/></linearGradient><linearGradient id="g88"><stop offset="0.0" stop-color="#0031ff"/><stop offset="0.1" stop-color="#0062ff"/><stop offset="0.2" stop-color="#0094ff"/><stop offset="0.3" stop-color="#00c7ff"/><stop offset="0.4" stop-color="#00f9ff"/><stop offset="0.5" stop-color="#00ffca"/><stop offset="0.6" stop-color="#00ff8d"/><stop offset="0.7" stop-color="#00ff50"/><stop offset="0.8" stop-color="#00ff12"/><stop offset="0.9" stop-color="#28ff00"/><stop offset="1.0" stop-color="#62ff00"/></linearGradient><linearGradient id="g89"><stop offset="0.0" stop-color="#002eff"/><stop offset="0.1" stop-color="#005fff"/><stop offset="0.2" stop-color="#0091ff"/><stop offset="0.3" stop-color="#00c3ff"/><stop offset="0.4" stop-color="#00f6ff"/><stop offset="0.5" stop-color="#00ffce"/><stop offset="0.6" stop-color="#00ff91"/><stop offset="0.7" stop-color="#00ff54"/><stop offset="0.8" stop-color="#00ff17"/><stop offset="0.9" stop-color="#24ff00"/><stop offset="1.0" stop-color="#5eff00"/></linearGradient><linearGradient id="g90"><stop offset="0.0" stop-color="#002bff"/><stop offset="0.1" stop-color="#005cff"/><stop offset="0.2" stop-color="#008eff"/><stop offset="0.3" stop-color="#00c0ff"/><stop offset="0.4" stop-color="#00f2ff"/><stop offset="0.5" stop-color="#00ffd2"/><stop offset="0.6" stop-color="#00ff96"/><stop offset="0.7" stop-color="#00ff59"/><stop offset="0.8" stop-color="#00ff1b"/><stop offset="0.9" stop-color="#20ff00"/><stop offset="1.0" stop-color="#59ff00"/></linearGradient><linearGradient id="g91"><stop offset="0.0" stop-color="#0028ff"/><stop offset="0.1" stop-color="#0059ff"/><stop offset="0.2" stop-color="#008bff"/><stop offset="0.3" stop-color="#00bdff"/><stop offset="0.4" stop-color="#00efff"/><stop offset="0.5" stop-color="#00ffd6"/><stop offset="0.6" stop-color="#00ff9a"/><stop offset="0.7" stop-color="#00ff5d"/><stop offset="0.8" stop-color="#00ff20"/><stop offset="0.9" stop-color="#1cff00"/><stop offset="1.0" stop-color="#55ff00"/></linearGradient><linearGradient id="g92"><stop offset="0.0" stop-color="#0025ff"/><stop offset="0.1" stop-color="#0056ff"/><stop offset="0.2" stop-color="#0087ff"/><stop offset="0.3" stop-color="#00b9ff"/><stop offset="0.4" stop-color="#00ecff"/><stop offset="0.5" stop-color="#00ffda"/><stop offset="0.6" stop-color="#00ff9e"/><stop offset="0.7" stop-color="#00ff61"/><stop offset="0.8" stop-color="#00ff24"/><stop offset="0.9" stop-color="#17ff00"/><stop offset="1.0" stop-color="#51ff00"/></linearGradient><linearGradient id="g93"><stop offset="0.0" stop-color="#0022ff"/><stop offset="0.1" stop-color="#0053ff"/><stop offset="0.2" stop-color="#0084ff"/><stop offset="0.3" stop-color="#00b6ff"/><stop offset="0.4" stop-color="#00e8ff"/><stop offset="0.5" stop-color="#00ffde"/><stop offset="0.6" stop-color="#00ffa2"/><stop offset="0.7" stop-color="#00ff66"/><stop offset="0.8" stop-color="#00ff29"/><stop offset="0.9" stop-color="#13ff00"/><stop offset="1.0" stop-color="#4cff00"/></linearGradient><linearGradient id="g94"><stop offset="0.0" stop-color="#001fff"/><stop offset="0.1" stop-color="#0050ff"/><stop offset="0.2" stop-color="#0081ff"/><stop offset="0.3" stop-color="#00b3ff"/><stop offset="0.4" stop-color="#00e5ff"/><stop offset="0.5" stop-color="#00ffe2"/><stop offset="0.6" stop-color="#00ffa7"/><stop offset="0.7" stop-color="#00ff6a"/><stop offset="0.8" stop-color="#00ff2d"/><stop offset="0.9" stop-color="#0fff00"/><stop offset="1.0" stop-color="#48ff00"/></linearGradient><linearGradient id="g95"><stop offset="0.0" stop-color="#001cff"/><stop offset="0.1" stop-color="#004dff"/><stop offset="0.2" stop-color="#007eff"/><stop offset="0.3" stop-color="#00afff"/><stop offset="0.4" stop-color="#00e1ff"/><stop offset="0.5" stop-color="#00ffe7"/><stop offset="0.6" stop-color="#00ffab"/><stop offset="0.7" stop-color="#00ff6f"/><stop offset="0.8" stop-color="#00ff32"/><stop offset="0.9" stop-color="#0bff00"/><stop offset="1.0" stop-color="#43ff00"/></linearGradient><linearGradient id="g96"><stop offset="0.0" stop-color="#0019ff"/><stop offset="0.1" stop-color="#004aff"/><stop offset="0.2" stop-color="#007bff"/><stop offset="0.3" stop-color="#00acff"/><stop offset="0.4" stop-color="#00deff"/><stop offset="0.5" stop-color="#00ffeb"/><stop offset="0.6" stop-color="#00ffaf"/><stop offset="0.7" stop-color="#00ff73"/><stop offset="0.8" stop-color="#00ff36"/><stop offset="0.9" stop-color="#06ff00"/><stop offset="1.0" stop-color="#3fff00"/></linearGradient><linearGradient id="g97"><stop offset="0.0" stop-color="#0016ff"/><stop offset="0.1" stop-color="#0047ff"/><stop offset="0.2" stop-color="#0077ff"/><stop offset="0.3" stop-color="#00a9ff"/><stop offset="0.4" stop-color="#00dbff"/><stop offset="0.5" stop-color="#00ffef"/><stop offset="0.6" stop-color="#00ffb3"/><stop offset="0.7" stop-color="#00ff77"/><stop offset="0.8" stop-color="#00ff3b"/><stop offset="0.9" stop-color="#02ff00"/><stop offset="1.0" stop-color="#3bff00"/></linearGradient><linearGradient id="g98"><stop offset="0.0" stop-color="#0013ff"/><stop offset="0.1" stop-color="#0043ff"/><stop offset="0.2" stop-color="#0074ff"/><stop offset="0.3" stop-color="#00a6ff"/><stop offset="0.4" stop-color="#00d7ff"/><stop offset="0.5" stop-color="#00fff3"/><stop offset="0.6" stop-color="#00ffb8"/><stop offset="0.7" stop-color="#00ff7c"/><stop offset="0.8" stop-color="#00ff3f"/><stop offset="0.9" stop-color="#00ff02"/><stop offset="1.0" stop-color="#36ff00"/></linearGradient><linearGradient id="g99"><stop offset="0.0" stop-color="#0010ff"/><stop offset="0.1" stop-color="#0040ff"/><stop offset="0.2" stop-color="#0071ff"/><stop offset="0.3" stop-color="#00a2ff"/><stop offset="0.4" stop-color="#00d4ff"/><stop offset="0.5" stop-color="#00fff7"/><stop offset="0.6" stop-color="#00ffbc"/><stop offset="0.7" stop-color="#00ff80"/><stop offset="0.8" stop-color="#00ff44"/><stop offset="0.9" stop-color="#00ff07"/><stop offset="1.0" stop-color="#32ff00"/></linearGradient><linearGradient id="g100"><stop offset="0.0" stop-color="#000dff"/><stop offset="0.1" stop-color="#003dff"/><stop offset="0.2" stop-color="#006eff"/><stop offset="0.3" stop-color="#009fff"/><stop offset="0.4" stop-color="#00d0ff"/><stop offset="0.5" stop-color="#00fffb"/><stop offset="0.6" stop-color="#00ffc0"/><stop offset="0.7" stop-color="#00ff84"/><stop offset="0.8" stop-color="#00ff48"/><stop offset="0.9" stop-color="#00ff0c"/><stop offset="1.0" stop-color="#2eff00"/></linearGradient><linearGradient id="g101"><stop offset="0.0" stop-color="#000aff"/><stop offset="0.1" stop-color="#003aff"/><stop offset="0.2" stop-color="#006bff"/><stop offset="0.3" stop-color="#009cff"/><stop offset="0.4" stop-color="#00cdff"/><stop offset="0.5" stop-color="#00ffff"/><stop offset="0.6" stop-color="#00ffc4"/><stop offset="0.7" stop-color="#00ff89"/><stop offset="0.8" stop-color="#00ff4d"/><stop offset="0.9" stop-color="#00ff10"/><stop offset="1.0" stop-color="#29ff00"/></linearGradient><linearGradient id="g102"><stop offset="0.0" stop-color="#0007ff"/><stop offset="0.1" stop-color="#0037ff"/><stop offset="0.2" stop-color="#0068ff"/><stop offset="0.3" stop-color="#0098ff"/><stop offset="0.4" stop-color="#00caff"/><stop offset="0.5" stop-color="#00fbff"/><stop offset="0.6" stop-color="#00ffc8"/><stop offset="0.7" stop-color="#00ff8d"/><stop offset="0.8" stop-color="#00ff51"/><stop offset="0.9" stop-color="#00ff15"/><stop offset="1.0" stop-color="#25ff00"/></linearGradient><linearGradient id="g103"><stop offset="0.0" stop-color="#0004ff"/><stop offset="0.1" stop-color="#0034ff"/><stop offset="0.2" stop-color="#0064ff"/><stop offset="0.3" stop-color="#0095ff"/><stop offset="0.4" stop-color="#00c6ff"/><stop offset="0.5" stop-color="#00f8ff"/><stop offset="0.6" stop-color="#00ffcd"/><stop offset="0.7" stop-color="#00ff91"/><stop offset="0.8" stop-color="#00ff56"/><stop offset="0.9" stop-color="#00ff19"/><stop offset="1.0" stop-color="#21ff00"/></linearGradient><linearGradient id="g104"><stop offset="0.0" stop-color="#0001ff"/><stop offset="0.1" stop-color="#0031ff"/><stop offset="0.2" stop-color="#0061ff"/><stop offset="0.3" stop-color="#0092ff"/><stop offset="0.4" stop-color="#00c3ff"/><stop offset="0.5" stop-color="#00f4ff"/><stop offset="0.6" stop-color="#00ffd1"/><stop offset="0.7" stop-color="#00ff96"/><stop offset="0.8" stop-color="#00ff5a"/><stop offset="0.9" stop-color="#00ff1e"/><stop offset="1.0" stop-color="#1cff00"/></linearGradient><linearGradient id="cb" x1="0" y1="0" x2="0" y2="1"><stop offset="0" stop-color="#f8c2a5"/><stop offset="1" stop-color="#f2a47f"/></linearGradient></defs><rect width="685" height="306" fill="#fff"/><path d="M0 9.5H317.5V306M400 48.5H685" stroke="#f2f2f2" stroke-width="1" fill="none"/>
<polygon points="150.5,282.4 276.2,236.8 182,189.9 62,223.8" fill="#6a6a6a"/>
<path d="M107.2 253.7L108.5 254 109.8 254.2 111.1 254.5 112.4 254.7 113.7 255 115 255.2 116.3 255.5 117.7 255.7 119 256 120.3 256.2 121.6 256.5 122.9 256.7 124.2 257 125.5 257.2 126.8 257.5 128.1 257.7 129.4 257.9 130.7 258.2 132 258.4 133.3 258.6 134.6 258.9 135.9 259.1 137.2 259.3 138.5 259.5 139.8 259.8 141.1 260 142.4 260.2 143.7 260.4 145 260.6 146.2 260.9 147.5 261.1 148.8 261.3 150.1 261.5 151.4 261.7 152.7 261.9 154 262.1 155.3 262.3 156.6 262.5 157.9 262.7 159.1 262.9 160.4 263.1 161.7 263.3 163 263.5 164.3 263.7 165.6 263.9 166.9 264.1 168.1 264.3 169.4 264.5 170.7 264.7 172 264.9 173.3 265 174.5 265.2 175.8 265.4 177.1 265.6 178.4 265.8 179.7 265.9 180.9 266.1 182.2 266.3 183.5 266.5 184.8 266.6 186 266.8 187.3 267 188.6 267.1 189.9 267.3 191.1 267.5" fill="none" stroke="#00aaff" stroke-width="1.5"/>
<path d="M67.3 227.2L68.6 227.5 69.9 227.8 71.2 228.1 72.5 228.4 73.8 228.7 75.1 229 76.4 229.3 77.7 229.5 79 229.8 80.3 230.1 81.6 230.4 82.9 230.7 84.2 230.9 85.5 231.2 86.8 231.5 88.1 231.8 89.4 232 90.7 232.3 92 232.6 93.3 232.8 94.6 233.1 95.9 233.4 97.2 233.6 98.5 233.9 99.8 234.1 101.1 234.4 102.4 234.7 103.7 234.9 105 235.2 106.3 235.4 107.6 235.7 108.9 235.9 110.2 236.1 111.5 236.4 112.8 236.6 114 236.9 115.3 237.1 116.6 237.4 117.9 237.6 119.2 237.8 120.5 238.1 121.8 238.3 123.1 238.5 124.3 238.8 125.6 239 126.9 239.2 128.2 239.4 129.5 239.7 130.8 239.9 132 240.1 133.3 240.3 134.6 240.5 135.9 240.8 137.2 241 138.4 241.2 139.7 241.4 141 241.6 142.3 241.8 143.6 242 144.8 242.2 146.1 242.4 147.4 242.6 148.7 242.8 149.9 243 151.2 243.2 152.5 243.4 153.8 243.6 155 243.8 156.3 244 157.6 244.2 158.9 244.4 160.1 244.6 161.4 244.8 162.7 245 163.9 245.1 165.2 245.3 166.5 245.5 167.7 245.7 169 245.9 170.3 246 171.5 246.2 172.8 246.4 174.1 246.6 175.3 246.7 176.6 246.9 177.9 247.1 179.1 247.2 180.4 247.4 181.6 247.6 182.9 247.7 184.2 247.9 185.4 248.1 186.7 248.2 187.9 248.4 189.2 248.5 190.5 248.7 191.7 248.8 193 249 194.2 249.1 195.5 249.3 196.7 249.4 198 249.6 199.2 249.7 200.5 249.9 201.7 250 203 250.2 204.3 250.3 205.5 250.4 206.8 250.6 208 250.7 209.3 250.8 210.5 251 211.7 251.1 213 251.2 214.2 251.4 215.5 251.5 216.7 251.6 218 251.8 219.2 251.9 220.5 252 221.7 252.1 223 252.2 224.2 252.4 225.4 252.5 226.7 252.6 227.9 252.7 229.2 252.8 230.4 252.9" fill="none" stroke="#00ffaa" stroke-width="1.5"/>
<path d="M89.6 216L90.9 216.2 92.2 216.5 93.5 216.7 94.8 217 96 217.2 97.3 217.5 98.6 217.7 99.9 218 101.2 218.2 102.4 218.5 103.7 218.7 105 218.9 106.3 219.2 107.6 219.4 108.8 219.7 110.1 219.9 111.4 220.1 112.7 220.4 113.9 220.6 115.2 220.8 116.5 221 117.8 221.3 119 221.5 120.3 221.7 121.6 221.9 122.8 222.2 124.1 222.4 125.4 222.6 126.7 222.8 127.9 223 129.2 223.2 130.5 223.5 131.7 223.7 133 223.9 134.3 224.1 135.5 224.3 136.8 224.5 138.1 224.7 139.3 224.9 140.6 225.1 141.9 225.3 143.1 225.5 144.4 225.7 145.6 225.9 146.9 226.1 148.2 226.3 149.4 226.5 150.7 226.7 152 226.8 153.2 227 154.5 227.2 155.7 227.4 157 227.6 158.2 227.8 159.5 227.9 160.8 228.1 162 228.3 163.3 228.5 164.5 228.7 165.8 228.8 167 229 168.3 229.2 169.5 229.3 170.8 229.5 172.1 229.7 173.3 229.8 174.6 230 175.8 230.2 177.1 230.3 178.3 230.5 179.6 230.7 180.8 230.8 182.1 231 183.3 231.1 184.6 231.3 185.8 231.4 187 231.6 188.3 231.7 189.5 231.9 190.8 232 192 232.2 193.3 232.3 194.5 232.5 195.8 232.6 197 232.7 198.3 232.9 199.5 233 200.7 233.2 202 233.3 203.2 233.4 204.5 233.6 205.7 233.7 206.9 233.8 208.2 234 209.4 234.1 210.7 234.2 211.9 234.3 213.1 234.5 214.4 234.6 215.6 234.7 216.8 234.8 218.1 235 219.3 235.1 220.5 235.2 221.8 235.3 223 235.4 224.2 235.5 225.5 235.7 226.7 235.8 227.9 235.9 229.2 236 230.4 236.1 231.6 236.2 232.9 236.3 234.1 236.4 235.3 236.5 236.5 236.6 237.8 236.7 239 236.8 240.2 236.9 241.4 237 242.7 237.1 243.9 237.2 245.1 237.3 246.3 237.4 247.6 237.5 248.8 237.6 250 237.6 251.2 237.7 252.5 237.8 253.7 237.9 254.9 238 256.1 238.1 257.3 238.2 258.6 238.2 259.8 238.3 261 238.4 262.2 238.5 263.4 238.5 264.7 238.6 265.9 238.7 267.1 238.8 268.3 238.8 269.5 238.9" fill="none" stroke="#00ff00" stroke-width="1.5"/>
<path d="M121.9 207.3L123.1 207.5 124.4 207.7 125.6 207.9 126.9 208.1 128.2 208.3 129.4 208.5 130.7 208.7 131.9 208.9 133.2 209.1 134.4 209.3 135.7 209.5 137 209.7 138.2 209.9 139.5 210.1 140.7 210.3 142 210.5 143.2 210.7 144.5 210.9 145.7 211 147 211.2 148.2 211.4 149.5 211.6 150.7 211.8 152 212 153.2 212.1 154.5 212.3 155.7 212.5 157 212.7 158.2 212.9 159.5 213 160.7 213.2 161.9 213.4 163.2 213.5 164.4 213.7 165.7 213.9 166.9 214 168.2 214.2 169.4 214.4 170.6 214.5 171.9 214.7 173.1 214.8 174.4 215 175.6 215.2 176.9 215.3 178.1 215.5 179.3 215.6 180.6 215.8 181.8 215.9 183.1 216.1 184.3 216.2 185.5 216.4 186.8 216.5 188 216.7 189.2 216.8 190.5 217 191.7 217.1 192.9 217.2 194.2 217.4 195.4 217.5 196.6 217.6 197.9 217.8 199.1 217.9 200.3 218 201.6 218.2 202.8 218.3 204 218.4 205.3 218.6 206.5 218.7 207.7 218.8 209 218.9 210.2 219.1 211.4 219.2 212.6 219.3 213.9 219.4 215.1 219.5 216.3 219.7 217.5 219.8 218.8 219.9 220 220 221.2 220.1 222.4 220.2 223.7 220.3 224.9 220.4 226.1 220.5 227.3 220.7 228.6 220.8 229.8 220.9 231 221 232.2 221.1 233.4 221.2 234.7 221.3 235.9 221.4 237.1 221.5 238.3 221.6 239.5 221.7 240.8 221.7 242 221.8 243.2 221.9 244.4 222 245.6 222.1 246.8 222.2" fill="none" stroke="#aaff00" stroke-width="1.5"/>
<path d="M152.2 198.5L153.5 198.7 154.7 198.8 156 199 157.2 199.2 158.4 199.3 159.7 199.5 160.9 199.7 162.1 199.8 163.4 200 164.6 200.2 165.8 200.3 167.1 200.5 168.3 200.6 169.5 200.8 170.8 201 172 201.1 173.2 201.3 174.5 201.4 175.7 201.6 176.9 201.7 178.2 201.9 179.4 202 180.6 202.2 181.9 202.3 183.1 202.5 184.3 202.6 185.5 202.7 186.8 202.9 188 203 189.2 203.2 190.5 203.3 191.7 203.4 192.9 203.6 194.1 203.7 195.4 203.8 196.6 204 197.8 204.1 199 204.2 200.3 204.3 201.5 204.5 202.7 204.6 203.9 204.7 205.1 204.8 206.4 205 207.6 205.1 208.8 205.2 210 205.3 211.3 205.4 212.5 205.6 213.7 205.7" fill="none" stroke="#ffaa00" stroke-width="1.5"/>
<path d="M62 223.8L150.5 282.4 276.2 236.8" fill="none" stroke="#111" stroke-width="1"/>
<path d="M62 223.8L182 189.9 276.2 236.8" fill="none" stroke="#111" stroke-width="0.9"/>
<g fill="#000"><circle cx="150.5" cy="282.4" r="1.15"/><circle cx="150.5" cy="282.4" r="1.15"/><circle cx="175.7" cy="273.3" r="1.15"/><circle cx="132.8" cy="270.7" r="1.15"/><circle cx="200.8" cy="264.2" r="1.15"/><circle cx="115.1" cy="259" r="1.15"/><circle cx="225.9" cy="255.1" r="1.15"/><circle cx="97.4" cy="247.2" r="1.15"/><circle cx="251" cy="245.9" r="1.15"/><circle cx="79.7" cy="235.5" r="1.15"/><circle cx="276.2" cy="236.8" r="1.15"/><circle cx="62" cy="223.8" r="1.15"/></g>
<path d="M62 223.8L55.5 74.2M276.2 236.8L283.6 81.3M84.7 181.9L80.7 69.8M258.7 191.2L263.2 75.5M109 175.7L105.9 65.4M239.5 182.7L242.7 69.7M133.3 169.5L131.1 61M220.3 174.2L222.3 63.9M157.6 163.3L156.3 56.6M201.1 165.6L201.9 58M181.9 157.1L181.5 52.2M181.9 157.1L181.5 52.2M60.5 188.1L181.9 157.1 277.9 199.8M59.2 159.7L181.8 130.9 279.3 170.2M58 131.2L181.7 104.7 280.8 140.6M56.7 102.7L181.6 78.4 282.2 111M55.5 74.2L181.5 52.2 283.6 81.3" fill="none" stroke="#262626" stroke-width="0.8"/>
<g fill="#000"><circle cx="60.5" cy="188.1" r="1.15"/><circle cx="59.2" cy="159.7" r="1.15"/><circle cx="58" cy="131.2" r="1.15"/><circle cx="56.7" cy="102.7" r="1.15"/><circle cx="55.5" cy="74.2" r="1.15"/></g>
<g><polygon points="180.3,76 186.5,71.8 181.5,68 175.3,72.2" fill="#f78a52" stroke="#f78a52" stroke-width="0.4"/><polygon points="174,80.2 180.3,76 175.3,72.2 169,76.3" fill="#f79b52" stroke="#f79b52" stroke-width="0.4"/><polygon points="185.3,79.8 191.6,75.6 186.5,71.8 180.3,76" fill="#f79752" stroke="#f79752" stroke-width="0.4"/><polygon points="179,84 185.3,79.8 180.3,76 174,80.2" fill="#f7a752" stroke="#f7a752" stroke-width="0.4"/><polygon points="167.8,84.4 174,80.2 169,76.3 162.8,80.5" fill="#f7ab52" stroke="#f7ab52" stroke-width="0.4"/><polygon points="190.3,83.6 196.6,79.4 191.6,75.6 185.3,79.8" fill="#f7a352" stroke="#f7a352" stroke-width="0.4"/><polygon points="161.6,88.6 167.8,84.4 162.8,80.5 156.6,84.7" fill="#f7bc52" stroke="#f7bc52" stroke-width="0.4"/><polygon points="172.7,88.3 179,84 174,80.2 167.8,84.4" fill="#f7b852" stroke="#f7b852" stroke-width="0.4"/><polygon points="184,87.9 190.3,83.6 185.3,79.8 179,84" fill="#f7b352" stroke="#f7b352" stroke-width="0.4"/><polygon points="195.2,87.5 201.6,83.2 196.6,79.4 190.3,83.6" fill="#f7af52" stroke="#f7af52" stroke-width="0.4"/><polygon points="166.5,92.5 172.7,88.3 167.8,84.4 161.6,88.6" fill="#f7c852" stroke="#f7c852" stroke-width="0.4"/><polygon points="188.9,91.8 195.2,87.5 190.3,83.6 184,87.9" fill="#f7c052" stroke="#f7c052" stroke-width="0.4"/><polygon points="155.4,92.9 161.6,88.6 156.6,84.7 150.5,89" fill="#f7cc52" stroke="#f7cc52" stroke-width="0.4"/><polygon points="177.7,92.2 184,87.9 179,84 172.7,88.3" fill="#f7c452" stroke="#f7c452" stroke-width="0.4"/><polygon points="200.2,91.3 206.6,87 201.6,83.2 195.2,87.5" fill="#f7bc52" stroke="#f7bc52" stroke-width="0.4"/><polygon points="149.2,97.2 155.4,92.9 150.5,89 144.3,93.2" fill="#f7dd52" stroke="#f7dd52" stroke-width="0.4"/><polygon points="160.2,96.8 166.5,92.5 161.6,88.6 155.4,92.9" fill="#f7d852" stroke="#f7d852" stroke-width="0.4"/><polygon points="171.4,96.5 177.7,92.2 172.7,88.3 166.5,92.5" fill="#f7d452" stroke="#f7d452" stroke-width="0.4"/><polygon points="182.6,96.1 188.9,91.8 184,87.9 177.7,92.2" fill="#f7d052" stroke="#f7d052" stroke-width="0.4"/><polygon points="193.8,95.6 200.2,91.3 195.2,87.5 188.9,91.8" fill="#f7cc52" stroke="#f7cc52" stroke-width="0.4"/><polygon points="205.1,95.2 211.6,90.9 206.6,87 200.2,91.3" fill="#f7c852" stroke="#f7c852" stroke-width="0.4"/><polygon points="143,101.4 149.2,97.2 144.3,93.2 138.1,97.5" fill="#f7ed52" stroke="#f7ed52" stroke-width="0.4"/><polygon points="154,101.1 160.2,96.8 155.4,92.9 149.2,97.2" fill="#f7e852" stroke="#f7e852" stroke-width="0.4"/><polygon points="165.1,100.8 171.4,96.5 166.5,92.5 160.2,96.8" fill="#f7e452" stroke="#f7e452" stroke-width="0.4"/><polygon points="176.3,100.4 182.6,96.1 177.7,92.2 171.4,96.5" fill="#f7e052" stroke="#f7e052" stroke-width="0.4"/><polygon points="187.5,100 193.8,95.6 188.9,91.8 182.6,96.1" fill="#f7dc52" stroke="#f7dc52" stroke-width="0.4"/><polygon points="198.8,99.5 205.1,95.2 200.2,91.3 193.8,95.6" fill="#f7d852" stroke="#f7d852" stroke-width="0.4"/><polygon points="210.1,99.1 216.5,94.7 211.6,90.9 205.1,95.2" fill="#f7d452" stroke="#f7d452" stroke-width="0.4"/><polygon points="147.8,105.4 154,101.1 149.2,97.2 143,101.4" fill="#e9ed52" stroke="#e9ed52" stroke-width="0.4"/><polygon points="170,104.7 176.3,100.4 171.4,96.5 165.1,100.8" fill="#f4ed52" stroke="#f4ed52" stroke-width="0.4"/><polygon points="181.2,104.3 187.5,100 182.6,96.1 176.3,100.4" fill="#f7ec52" stroke="#f7ec52" stroke-width="0.4"/><polygon points="203.7,103.5 210.1,99.1 205.1,95.2 198.8,99.5" fill="#f7e452" stroke="#f7e452" stroke-width="0.4"/><polygon points="136.8,105.7 143,101.4 138.1,97.5 132,101.7" fill="#e3ed52" stroke="#e3ed52" stroke-width="0.4"/><polygon points="158.9,105.1 165.1,100.8 160.2,96.8 154,101.1" fill="#eeed52" stroke="#eeed52" stroke-width="0.4"/><polygon points="192.4,103.9 198.8,99.5 193.8,95.6 187.5,100" fill="#f7e852" stroke="#f7e852" stroke-width="0.4"/><polygon points="215,103 221.5,98.6 216.5,94.7 210.1,99.1" fill="#f7e052" stroke="#f7e052" stroke-width="0.4"/><polygon points="130.6,110 136.8,105.7 132,101.7 125.9,106" fill="#ceed52" stroke="#ceed52" stroke-width="0.4"/><polygon points="141.6,109.8 147.8,105.4 143,101.4 136.8,105.7" fill="#d4ed52" stroke="#d4ed52" stroke-width="0.4"/><polygon points="152.6,109.4 158.9,105.1 154,101.1 147.8,105.4" fill="#daed52" stroke="#daed52" stroke-width="0.4"/><polygon points="163.7,109.1 170,104.7 165.1,100.8 158.9,105.1" fill="#dfed52" stroke="#dfed52" stroke-width="0.4"/><polygon points="174.8,108.7 181.2,104.3 176.3,100.4 170,104.7" fill="#e5ed52" stroke="#e5ed52" stroke-width="0.4"/><polygon points="186,108.3 192.4,103.9 187.5,100 181.2,104.3" fill="#eaed52" stroke="#eaed52" stroke-width="0.4"/><polygon points="197.3,107.9 203.7,103.5 198.8,99.5 192.4,103.9" fill="#efed52" stroke="#efed52" stroke-width="0.4"/><polygon points="208.6,107.4 215,103 210.1,99.1 203.7,103.5" fill="#f4ed52" stroke="#f4ed52" stroke-width="0.4"/><polygon points="219.9,106.9 226.4,102.5 221.5,98.6 215,103" fill="#f7ec52" stroke="#f7ec52" stroke-width="0.4"/><polygon points="135.4,114.1 141.6,109.8 136.8,105.7 130.6,110" fill="#bfed52" stroke="#bfed52" stroke-width="0.4"/><polygon points="157.4,113.4 163.7,109.1 158.9,105.1 152.6,109.4" fill="#cbed52" stroke="#cbed52" stroke-width="0.4"/><polygon points="190.9,112.3 197.3,107.9 192.4,103.9 186,108.3" fill="#dbed52" stroke="#dbed52" stroke-width="0.4"/><polygon points="213.5,111.3 219.9,106.9 215,103 208.6,107.4" fill="#e5ed52" stroke="#e5ed52" stroke-width="0.4"/><polygon points="124.5,114.4 130.6,110 125.9,106 119.7,110.3" fill="#b9ed52" stroke="#b9ed52" stroke-width="0.4"/><polygon points="146.4,113.8 152.6,109.4 147.8,105.4 141.6,109.8" fill="#c5ed52" stroke="#c5ed52" stroke-width="0.4"/><polygon points="168.5,113.1 174.8,108.7 170,104.7 163.7,109.1" fill="#d0ed52" stroke="#d0ed52" stroke-width="0.4"/><polygon points="179.7,112.7 186,108.3 181.2,104.3 174.8,108.7" fill="#d6ed52" stroke="#d6ed52" stroke-width="0.4"/><polygon points="202.1,111.8 208.6,107.4 203.7,103.5 197.3,107.9" fill="#e0ed52" stroke="#e0ed52" stroke-width="0.4"/><polygon points="224.8,110.8 231.3,106.4 226.4,102.5 219.9,106.9" fill="#e9ed52" stroke="#e9ed52" stroke-width="0.4"/><polygon points="118.4,118.7 124.5,114.4 119.7,110.3 113.6,114.6" fill="#a4ed52" stroke="#a4ed52" stroke-width="0.4"/><polygon points="129.3,118.4 135.4,114.1 130.6,110 124.5,114.4" fill="#aaed52" stroke="#aaed52" stroke-width="0.4"/><polygon points="140.2,118.1 146.4,113.8 141.6,109.8 135.4,114.1" fill="#b0ed52" stroke="#b0ed52" stroke-width="0.4"/><polygon points="151.2,117.8 157.4,113.4 152.6,109.4 146.4,113.8" fill="#b6ed52" stroke="#b6ed52" stroke-width="0.4"/><polygon points="162.2,117.5 168.5,113.1 163.7,109.1 157.4,113.4" fill="#bced52" stroke="#bced52" stroke-width="0.4"/><polygon points="173.4,117.1 179.7,112.7 174.8,108.7 168.5,113.1" fill="#c1ed52" stroke="#c1ed52" stroke-width="0.4"/><polygon points="184.5,116.7 190.9,112.3 186,108.3 179.7,112.7" fill="#c7ed52" stroke="#c7ed52" stroke-width="0.4"/><polygon points="195.7,116.2 202.1,111.8 197.3,107.9 190.9,112.3" fill="#cced52" stroke="#cced52" stroke-width="0.4"/><polygon points="207,115.8 213.5,111.3 208.6,107.4 202.1,111.8" fill="#d1ed52" stroke="#d1ed52" stroke-width="0.4"/><polygon points="218.3,115.3 224.8,110.8 219.9,106.9 213.5,111.3" fill="#d5ed52" stroke="#d5ed52" stroke-width="0.4"/><polygon points="229.7,114.8 236.3,110.3 231.3,106.4 224.8,110.8" fill="#daed52" stroke="#daed52" stroke-width="0.4"/><polygon points="112.2,123.1 118.4,118.7 113.6,114.6 107.5,118.9" fill="#8fed52" stroke="#8fed52" stroke-width="0.4"/><polygon points="123.1,122.8 129.3,118.4 124.5,114.4 118.4,118.7" fill="#95ed52" stroke="#95ed52" stroke-width="0.4"/><polygon points="134,122.5 140.2,118.1 135.4,114.1 129.3,118.4" fill="#9ced52" stroke="#9ced52" stroke-width="0.4"/><polygon points="145,122.2 151.2,117.8 146.4,113.8 140.2,118.1" fill="#a2ed52" stroke="#a2ed52" stroke-width="0.4"/><polygon points="156,121.9 162.2,117.5 157.4,113.4 151.2,117.8" fill="#a8ed52" stroke="#a8ed52" stroke-width="0.4"/><polygon points="167,121.5 173.4,117.1 168.5,113.1 162.2,117.5" fill="#aded52" stroke="#aded52" stroke-width="0.4"/><polygon points="178.2,121.1 184.5,116.7 179.7,112.7 173.4,117.1" fill="#b3ed52" stroke="#b3ed52" stroke-width="0.4"/><polygon points="189.3,120.7 195.7,116.2 190.9,112.3 184.5,116.7" fill="#b8ed52" stroke="#b8ed52" stroke-width="0.4"/><polygon points="200.6,120.2 207,115.8 202.1,111.8 195.7,116.2" fill="#bded52" stroke="#bded52" stroke-width="0.4"/><polygon points="211.9,119.7 218.3,115.3 213.5,111.3 207,115.8" fill="#c2ed52" stroke="#c2ed52" stroke-width="0.4"/><polygon points="223.2,119.2 229.7,114.8 224.8,110.8 218.3,115.3" fill="#c6ed52" stroke="#c6ed52" stroke-width="0.4"/><polygon points="234.6,118.7 241.2,114.2 236.3,110.3 229.7,114.8" fill="#cbed52" stroke="#cbed52" stroke-width="0.4"/><polygon points="116.9,127.2 123.1,122.8 118.4,118.7 112.2,123.1" fill="#81ed52" stroke="#81ed52" stroke-width="0.4"/><polygon points="127.8,126.9 134,122.5 129.3,118.4 123.1,122.8" fill="#87ed52" stroke="#87ed52" stroke-width="0.4"/><polygon points="138.7,126.6 145,122.2 140.2,118.1 134,122.5" fill="#8ded52" stroke="#8ded52" stroke-width="0.4"/><polygon points="149.7,126.3 156,121.9 151.2,117.8 145,122.2" fill="#93ed52" stroke="#93ed52" stroke-width="0.4"/><polygon points="171.8,125.5 178.2,121.1 173.4,117.1 167,121.5" fill="#9fed52" stroke="#9fed52" stroke-width="0.4"/><polygon points="194.2,124.7 200.6,120.2 195.7,116.2 189.3,120.7" fill="#a9ed52" stroke="#a9ed52" stroke-width="0.4"/><polygon points="205.4,124.2 211.9,119.7 207,115.8 200.6,120.2" fill="#aeed52" stroke="#aeed52" stroke-width="0.4"/><polygon points="216.7,123.7 223.2,119.2 218.3,115.3 211.9,119.7" fill="#b3ed52" stroke="#b3ed52" stroke-width="0.4"/><polygon points="228.1,123.2 234.6,118.7 229.7,114.8 223.2,119.2" fill="#b7ed52" stroke="#b7ed52" stroke-width="0.4"/><polygon points="106.1,127.4 112.2,123.1 107.5,118.9 101.4,123.3" fill="#7aed52" stroke="#7aed52" stroke-width="0.4"/><polygon points="160.7,125.9 167,121.5 162.2,117.5 156,121.9" fill="#99ed52" stroke="#99ed52" stroke-width="0.4"/><polygon points="183,125.1 189.3,120.7 184.5,116.7 178.2,121.1" fill="#a4ed52" stroke="#a4ed52" stroke-width="0.4"/><polygon points="239.5,122.7 246.1,118.1 241.2,114.2 234.6,118.7" fill="#bbed52" stroke="#bbed52" stroke-width="0.4"/><polygon points="100,131.8 106.1,127.4 101.4,123.3 95.4,127.6" fill="#65ed52" stroke="#65ed52" stroke-width="0.4"/><polygon points="110.8,131.6 116.9,127.2 112.2,123.1 106.1,127.4" fill="#6ced52" stroke="#6ced52" stroke-width="0.4"/><polygon points="121.7,131.3 127.8,126.9 123.1,122.8 116.9,127.2" fill="#73ed52" stroke="#73ed52" stroke-width="0.4"/><polygon points="132.5,131 138.7,126.6 134,122.5 127.8,126.9" fill="#79ed52" stroke="#79ed52" stroke-width="0.4"/><polygon points="143.5,130.7 149.7,126.3 145,122.2 138.7,126.6" fill="#7fed52" stroke="#7fed52" stroke-width="0.4"/><polygon points="154.5,130.4 160.7,125.9 156,121.9 149.7,126.3" fill="#85ed52" stroke="#85ed52" stroke-width="0.4"/><polygon points="165.5,130 171.8,125.5 167,121.5 160.7,125.9" fill="#8bed52" stroke="#8bed52" stroke-width="0.4"/><polygon points="176.6,129.6 183,125.1 178.2,121.1 171.8,125.5" fill="#90ed52" stroke="#90ed52" stroke-width="0.4"/><polygon points="187.8,129.2 194.2,124.7 189.3,120.7 183,125.1" fill="#95ed52" stroke="#95ed52" stroke-width="0.4"/><polygon points="199,128.7 205.4,124.2 200.6,120.2 194.2,124.7" fill="#9aed52" stroke="#9aed52" stroke-width="0.4"/><polygon points="210.2,128.2 216.7,123.7 211.9,119.7 205.4,124.2" fill="#9fed52" stroke="#9fed52" stroke-width="0.4"/><polygon points="221.5,127.7 228.1,123.2 223.2,119.2 216.7,123.7" fill="#a4ed52" stroke="#a4ed52" stroke-width="0.4"/><polygon points="232.9,127.2 239.5,122.7 234.6,118.7 228.1,123.2" fill="#a8ed52" stroke="#a8ed52" stroke-width="0.4"/><polygon points="244.3,126.6 250.9,122.1 246.1,118.1 239.5,122.7" fill="#aced52" stroke="#aced52" stroke-width="0.4"/><polygon points="126.3,135.4 132.5,131 127.8,126.9 121.7,131.3" fill="#65ed52" stroke="#65ed52" stroke-width="0.4"/><polygon points="159.2,134.5 165.5,130 160.7,125.9 154.5,130.4" fill="#77ed52" stroke="#77ed52" stroke-width="0.4"/><polygon points="181.4,133.7 187.8,129.2 183,125.1 176.6,129.6" fill="#82ed52" stroke="#82ed52" stroke-width="0.4"/><polygon points="215,132.3 221.5,127.7 216.7,123.7 210.2,128.2" fill="#90ed52" stroke="#90ed52" stroke-width="0.4"/><polygon points="94,136.2 100,131.8 95.4,127.6 89.3,132" fill="#51ed52" stroke="#51ed52" stroke-width="0.4"/><polygon points="104.7,136 110.8,131.6 106.1,127.4 100,131.8" fill="#58ed52" stroke="#58ed52" stroke-width="0.4"/><polygon points="115.5,135.7 121.7,131.3 116.9,127.2 110.8,131.6" fill="#5eed52" stroke="#5eed52" stroke-width="0.4"/><polygon points="137.2,135.1 143.5,130.7 138.7,126.6 132.5,131" fill="#6bed52" stroke="#6bed52" stroke-width="0.4"/><polygon points="148.2,134.8 154.5,130.4 149.7,126.3 143.5,130.7" fill="#71ed52" stroke="#71ed52" stroke-width="0.4"/><polygon points="170.3,134.1 176.6,129.6 171.8,125.5 165.5,130" fill="#7ced52" stroke="#7ced52" stroke-width="0.4"/><polygon points="192.6,133.2 199,128.7 194.2,124.7 187.8,129.2" fill="#87ed52" stroke="#87ed52" stroke-width="0.4"/><polygon points="203.8,132.8 210.2,128.2 205.4,124.2 199,128.7" fill="#8ced52" stroke="#8ced52" stroke-width="0.4"/><polygon points="226.4,131.7 232.9,127.2 228.1,123.2 221.5,127.7" fill="#95ed52" stroke="#95ed52" stroke-width="0.4"/><polygon points="237.8,131.2 244.3,126.6 239.5,122.7 232.9,127.2" fill="#99ed52" stroke="#99ed52" stroke-width="0.4"/><polygon points="249.2,130.6 255.8,126 250.9,122.1 244.3,126.6" fill="#9ded52" stroke="#9ded52" stroke-width="0.4"/><polygon points="87.9,140.6 94,136.2 89.3,132 83.3,136.4" fill="#4fed65" stroke="#4fed65" stroke-width="0.4"/><polygon points="98.6,140.4 104.7,136 100,131.8 94,136.2" fill="#4fed5e" stroke="#4fed5e" stroke-width="0.4"/><polygon points="109.4,140.1 115.5,135.7 110.8,131.6 104.7,136" fill="#4fed57" stroke="#4fed57" stroke-width="0.4"/><polygon points="120.2,139.9 126.3,135.4 121.7,131.3 115.5,135.7" fill="#50ed52" stroke="#50ed52" stroke-width="0.4"/><polygon points="131,139.6 137.2,135.1 132.5,131 126.3,135.4" fill="#57ed52" stroke="#57ed52" stroke-width="0.4"/><polygon points="142,139.3 148.2,134.8 143.5,130.7 137.2,135.1" fill="#5ded52" stroke="#5ded52" stroke-width="0.4"/><polygon points="152.9,138.9 159.2,134.5 154.5,130.4 148.2,134.8" fill="#63ed52" stroke="#63ed52" stroke-width="0.4"/><polygon points="163.9,138.6 170.3,134.1 165.5,130 159.2,134.5" fill="#69ed52" stroke="#69ed52" stroke-width="0.4"/><polygon points="175,138.2 181.4,133.7 176.6,129.6 170.3,134.1" fill="#6eed52" stroke="#6eed52" stroke-width="0.4"/><polygon points="186.1,137.7 192.6,133.2 187.8,129.2 181.4,133.7" fill="#73ed52" stroke="#73ed52" stroke-width="0.4"/><polygon points="197.3,137.3 203.8,132.8 199,128.7 192.6,133.2" fill="#78ed52" stroke="#78ed52" stroke-width="0.4"/><polygon points="208.6,136.8 215,132.3 210.2,128.2 203.8,132.8" fill="#7ded52" stroke="#7ded52" stroke-width="0.4"/><polygon points="219.8,136.3 226.4,131.7 221.5,127.7 215,132.3" fill="#82ed52" stroke="#82ed52" stroke-width="0.4"/><polygon points="231.2,135.8 237.8,131.2 232.9,127.2 226.4,131.7" fill="#86ed52" stroke="#86ed52" stroke-width="0.4"/><polygon points="242.6,135.2 249.2,130.6 244.3,126.6 237.8,131.2" fill="#8bed52" stroke="#8bed52" stroke-width="0.4"/><polygon points="254,134.6 260.7,130 255.8,126 249.2,130.6" fill="#8fed52" stroke="#8fed52" stroke-width="0.4"/><polygon points="92.5,144.8 98.6,140.4 94,136.2 87.9,140.6" fill="#4fed73" stroke="#4fed73" stroke-width="0.4"/><polygon points="103.2,144.6 109.4,140.1 104.7,136 98.6,140.4" fill="#4fed6c" stroke="#4fed6c" stroke-width="0.4"/><polygon points="114,144.3 120.2,139.9 115.5,135.7 109.4,140.1" fill="#4fed65" stroke="#4fed65" stroke-width="0.4"/><polygon points="124.8,144.1 131,139.6 126.3,135.4 120.2,139.9" fill="#4fed5e" stroke="#4fed5e" stroke-width="0.4"/><polygon points="135.7,143.8 142,139.3 137.2,135.1 131,139.6" fill="#4fed58" stroke="#4fed58" stroke-width="0.4"/><polygon points="146.7,143.4 152.9,138.9 148.2,134.8 142,139.3" fill="#4fed52" stroke="#4fed52" stroke-width="0.4"/><polygon points="157.6,143.1 163.9,138.6 159.2,134.5 152.9,138.9" fill="#55ed52" stroke="#55ed52" stroke-width="0.4"/><polygon points="168.7,142.7 175,138.2 170.3,134.1 163.9,138.6" fill="#5aed52" stroke="#5aed52" stroke-width="0.4"/><polygon points="179.8,142.3 186.1,137.7 181.4,133.7 175,138.2" fill="#60ed52" stroke="#60ed52" stroke-width="0.4"/><polygon points="190.9,141.8 197.3,137.3 192.6,133.2 186.1,137.7" fill="#65ed52" stroke="#65ed52" stroke-width="0.4"/><polygon points="202.1,141.4 208.6,136.8 203.8,132.8 197.3,137.3" fill="#6aed52" stroke="#6aed52" stroke-width="0.4"/><polygon points="213.3,140.9 219.8,136.3 215,132.3 208.6,136.8" fill="#6fed52" stroke="#6fed52" stroke-width="0.4"/><polygon points="224.6,140.3 231.2,135.8 226.4,131.7 219.8,136.3" fill="#73ed52" stroke="#73ed52" stroke-width="0.4"/><polygon points="236,139.8 242.6,135.2 237.8,131.2 231.2,135.8" fill="#78ed52" stroke="#78ed52" stroke-width="0.4"/><polygon points="247.4,139.2 254,134.6 249.2,130.6 242.6,135.2" fill="#7ced52" stroke="#7ced52" stroke-width="0.4"/><polygon points="81.8,145 87.9,140.6 83.3,136.4 77.2,140.8" fill="#4fed7a" stroke="#4fed7a" stroke-width="0.4"/><polygon points="258.9,138.6 265.5,134 260.7,130 254,134.6" fill="#80ed52" stroke="#80ed52" stroke-width="0.4"/><polygon points="75.8,149.4 81.8,145 77.2,140.8 71.2,145.2" fill="#4fed8f" stroke="#4fed8f" stroke-width="0.4"/><polygon points="86.4,149.2 92.5,144.8 87.9,140.6 81.8,145" fill="#4fed88" stroke="#4fed88" stroke-width="0.4"/><polygon points="97.1,149 103.2,144.6 98.6,140.4 92.5,144.8" fill="#4fed81" stroke="#4fed81" stroke-width="0.4"/><polygon points="107.9,148.8 114,144.3 109.4,140.1 103.2,144.6" fill="#4fed7a" stroke="#4fed7a" stroke-width="0.4"/><polygon points="118.7,148.5 124.8,144.1 120.2,139.9 114,144.3" fill="#4fed73" stroke="#4fed73" stroke-width="0.4"/><polygon points="140.4,147.9 146.7,143.4 142,139.3 135.7,143.8" fill="#4fed66" stroke="#4fed66" stroke-width="0.4"/><polygon points="151.3,147.6 157.6,143.1 152.9,138.9 146.7,143.4" fill="#4fed60" stroke="#4fed60" stroke-width="0.4"/><polygon points="162.3,147.2 168.7,142.7 163.9,138.6 157.6,143.1" fill="#4fed5a" stroke="#4fed5a" stroke-width="0.4"/><polygon points="173.4,146.8 179.8,142.3 175,138.2 168.7,142.7" fill="#4fed54" stroke="#4fed54" stroke-width="0.4"/><polygon points="184.5,146.4 190.9,141.8 186.1,137.7 179.8,142.3" fill="#52ed52" stroke="#52ed52" stroke-width="0.4"/><polygon points="195.6,145.9 202.1,141.4 197.3,137.3 190.9,141.8" fill="#57ed52" stroke="#57ed52" stroke-width="0.4"/><polygon points="218.1,144.9 224.6,140.3 219.8,136.3 213.3,140.9" fill="#60ed52" stroke="#60ed52" stroke-width="0.4"/><polygon points="229.4,144.4 236,139.8 231.2,135.8 224.6,140.3" fill="#65ed52" stroke="#65ed52" stroke-width="0.4"/><polygon points="240.8,143.8 247.4,139.2 242.6,135.2 236,139.8" fill="#69ed52" stroke="#69ed52" stroke-width="0.4"/><polygon points="252.2,143.2 258.9,138.6 254,134.6 247.4,139.2" fill="#6ded52" stroke="#6ded52" stroke-width="0.4"/><polygon points="263.7,142.6 270.4,138 265.5,134 258.9,138.6" fill="#71ed52" stroke="#71ed52" stroke-width="0.4"/><polygon points="129.5,148.2 135.7,143.8 131,139.6 124.8,144.1" fill="#4fed6c" stroke="#4fed6c" stroke-width="0.4"/><polygon points="206.9,145.4 213.3,140.9 208.6,136.8 202.1,141.4" fill="#5ced52" stroke="#5ced52" stroke-width="0.4"/><polygon points="69.8,153.9 75.8,149.4 71.2,145.2 65.2,149.6" fill="#4feda4" stroke="#4feda4" stroke-width="0.4"/><polygon points="80.4,153.7 86.4,149.2 81.8,145 75.8,149.4" fill="#4fed9d" stroke="#4fed9d" stroke-width="0.4"/><polygon points="91,153.5 97.1,149 92.5,144.8 86.4,149.2" fill="#4fed95" stroke="#4fed95" stroke-width="0.4"/><polygon points="101.7,153.3 107.9,148.8 103.2,144.6 97.1,149" fill="#4fed8e" stroke="#4fed8e" stroke-width="0.4"/><polygon points="112.5,153 118.7,148.5 114,144.3 107.9,148.8" fill="#4fed87" stroke="#4fed87" stroke-width="0.4"/><polygon points="123.3,152.7 129.5,148.2 124.8,144.1 118.7,148.5" fill="#4fed81" stroke="#4fed81" stroke-width="0.4"/><polygon points="134.2,152.4 140.4,147.9 135.7,143.8 129.5,148.2" fill="#4fed7a" stroke="#4fed7a" stroke-width="0.4"/><polygon points="145.1,152.1 151.3,147.6 146.7,143.4 140.4,147.9" fill="#4fed74" stroke="#4fed74" stroke-width="0.4"/><polygon points="156,151.7 162.3,147.2 157.6,143.1 151.3,147.6" fill="#4fed6e" stroke="#4fed6e" stroke-width="0.4"/><polygon points="167,151.4 173.4,146.8 168.7,142.7 162.3,147.2" fill="#4fed68" stroke="#4fed68" stroke-width="0.4"/><polygon points="178.1,150.9 184.5,146.4 179.8,142.3 173.4,146.8" fill="#4fed63" stroke="#4fed63" stroke-width="0.4"/><polygon points="189.2,150.5 195.6,145.9 190.9,141.8 184.5,146.4" fill="#4fed5d" stroke="#4fed5d" stroke-width="0.4"/><polygon points="200.4,150 206.9,145.4 202.1,141.4 195.6,145.9" fill="#4fed58" stroke="#4fed58" stroke-width="0.4"/><polygon points="211.6,149.5 218.1,144.9 213.3,140.9 206.9,145.4" fill="#4fed53" stroke="#4fed53" stroke-width="0.4"/><polygon points="222.9,149 229.4,144.4 224.6,140.3 218.1,144.9" fill="#52ed52" stroke="#52ed52" stroke-width="0.4"/><polygon points="234.2,148.5 240.8,143.8 236,139.8 229.4,144.4" fill="#57ed52" stroke="#57ed52" stroke-width="0.4"/><polygon points="245.6,147.9 252.2,143.2 247.4,139.2 240.8,143.8" fill="#5bed52" stroke="#5bed52" stroke-width="0.4"/><polygon points="257,147.3 263.7,142.6 258.9,138.6 252.2,143.2" fill="#5fed52" stroke="#5fed52" stroke-width="0.4"/><polygon points="268.5,146.7 275.2,142 270.4,138 263.7,142.6" fill="#63ed52" stroke="#63ed52" stroke-width="0.4"/><polygon points="74.3,158.2 80.4,153.7 75.8,149.4 69.8,153.9" fill="#4fedb1" stroke="#4fedb1" stroke-width="0.4"/><polygon points="95.6,157.8 101.7,153.3 97.1,149 91,153.5" fill="#4feda3" stroke="#4feda3" stroke-width="0.4"/><polygon points="149.7,156.3 156,151.7 151.3,147.6 145.1,152.1" fill="#4fed82" stroke="#4fed82" stroke-width="0.4"/><polygon points="182.8,155.1 189.2,150.5 184.5,146.4 178.1,150.9" fill="#4fed71" stroke="#4fed71" stroke-width="0.4"/><polygon points="239,152.5 245.6,147.9 240.8,143.8 234.2,148.5" fill="#4fed58" stroke="#4fed58" stroke-width="0.4"/><polygon points="261.8,151.3 268.5,146.7 263.7,142.6 257,147.3" fill="#50ed52" stroke="#50ed52" stroke-width="0.4"/><polygon points="63.7,158.3 69.8,153.9 65.2,149.6 59.2,154" fill="#4fedb9" stroke="#4fedb9" stroke-width="0.4"/><polygon points="84.9,158 91,153.5 86.4,149.2 80.4,153.7" fill="#4fedaa" stroke="#4fedaa" stroke-width="0.4"/><polygon points="106.3,157.5 112.5,153 107.9,148.8 101.7,153.3" fill="#4fed9c" stroke="#4fed9c" stroke-width="0.4"/><polygon points="117.1,157.3 123.3,152.7 118.7,148.5 112.5,153" fill="#4fed95" stroke="#4fed95" stroke-width="0.4"/><polygon points="127.9,157 134.2,152.4 129.5,148.2 123.3,152.7" fill="#4fed8e" stroke="#4fed8e" stroke-width="0.4"/><polygon points="138.8,156.6 145.1,152.1 140.4,147.9 134.2,152.4" fill="#4fed88" stroke="#4fed88" stroke-width="0.4"/><polygon points="160.7,155.9 167,151.4 162.3,147.2 156,151.7" fill="#4fed7c" stroke="#4fed7c" stroke-width="0.4"/><polygon points="171.7,155.5 178.1,150.9 173.4,146.8 167,151.4" fill="#4fed76" stroke="#4fed76" stroke-width="0.4"/><polygon points="193.9,154.6 200.4,150 195.6,145.9 189.2,150.5" fill="#4fed6b" stroke="#4fed6b" stroke-width="0.4"/><polygon points="205.1,154.1 211.6,149.5 206.9,145.4 200.4,150" fill="#4fed66" stroke="#4fed66" stroke-width="0.4"/><polygon points="216.4,153.6 222.9,149 218.1,144.9 211.6,149.5" fill="#4fed62" stroke="#4fed62" stroke-width="0.4"/><polygon points="227.6,153.1 234.2,148.5 229.4,144.4 222.9,149" fill="#4fed5d" stroke="#4fed5d" stroke-width="0.4"/><polygon points="250.4,151.9 257,147.3 252.2,143.2 245.6,147.9" fill="#4fed54" stroke="#4fed54" stroke-width="0.4"/><polygon points="273.3,150.7 280,146 275.2,142 268.5,146.7" fill="#54ed52" stroke="#54ed52" stroke-width="0.4"/><polygon points="68.3,162.6 74.3,158.2 69.8,153.9 63.7,158.3" fill="#4fedc6" stroke="#4fedc6" stroke-width="0.4"/><polygon points="78.9,162.5 84.9,158 80.4,153.7 74.3,158.2" fill="#4fedbe" stroke="#4fedbe" stroke-width="0.4"/><polygon points="89.5,162.3 95.6,157.8 91,153.5 84.9,158" fill="#4fedb7" stroke="#4fedb7" stroke-width="0.4"/><polygon points="100.2,162 106.3,157.5 101.7,153.3 95.6,157.8" fill="#4fedb0" stroke="#4fedb0" stroke-width="0.4"/><polygon points="121.7,161.5 127.9,157 123.3,152.7 117.1,157.3" fill="#4feda2" stroke="#4feda2" stroke-width="0.4"/><polygon points="143.4,160.8 149.7,156.3 145.1,152.1 138.8,156.6" fill="#4fed96" stroke="#4fed96" stroke-width="0.4"/><polygon points="154.4,160.5 160.7,155.9 156,151.7 149.7,156.3" fill="#4fed90" stroke="#4fed90" stroke-width="0.4"/><polygon points="165.4,160.1 171.7,155.5 167,151.4 160.7,155.9" fill="#4fed8a" stroke="#4fed8a" stroke-width="0.4"/><polygon points="176.4,159.7 182.8,155.1 178.1,150.9 171.7,155.5" fill="#4fed84" stroke="#4fed84" stroke-width="0.4"/><polygon points="187.5,159.2 193.9,154.6 189.2,150.5 182.8,155.1" fill="#4fed7f" stroke="#4fed7f" stroke-width="0.4"/><polygon points="209.8,158.3 216.4,153.6 211.6,149.5 205.1,154.1" fill="#4fed75" stroke="#4fed75" stroke-width="0.4"/><polygon points="232.4,157.2 239,152.5 234.2,148.5 227.6,153.1" fill="#4fed6b" stroke="#4fed6b" stroke-width="0.4"/><polygon points="243.7,156.6 250.4,151.9 245.6,147.9 239,152.5" fill="#4fed67" stroke="#4fed67" stroke-width="0.4"/><polygon points="255.1,156 261.8,151.3 257,147.3 250.4,151.9" fill="#4fed63" stroke="#4fed63" stroke-width="0.4"/><polygon points="266.6,155.4 273.3,150.7 268.5,146.7 261.8,151.3" fill="#4fed5f" stroke="#4fed5f" stroke-width="0.4"/><polygon points="110.9,161.8 117.1,157.3 112.5,153 106.3,157.5" fill="#4feda9" stroke="#4feda9" stroke-width="0.4"/><polygon points="132.6,161.2 138.8,156.6 134.2,152.4 127.9,157" fill="#4fed9c" stroke="#4fed9c" stroke-width="0.4"/><polygon points="198.7,158.8 205.1,154.1 200.4,150 193.9,154.6" fill="#4fed7a" stroke="#4fed7a" stroke-width="0.4"/><polygon points="221.1,157.7 227.6,153.1 222.9,149 216.4,153.6" fill="#4fed70" stroke="#4fed70" stroke-width="0.4"/><polygon points="83.4,166.8 89.5,162.3 84.9,158 78.9,162.5" fill="#4fedcb" stroke="#4fedcb" stroke-width="0.4"/><polygon points="115.5,166 121.7,161.5 117.1,157.3 110.9,161.8" fill="#4fedb6" stroke="#4fedb6" stroke-width="0.4"/><polygon points="137.2,165.4 143.4,160.8 138.8,156.6 132.6,161.2" fill="#4feda9" stroke="#4feda9" stroke-width="0.4"/><polygon points="159,164.7 165.4,160.1 160.7,155.9 154.4,160.5" fill="#4fed9d" stroke="#4fed9d" stroke-width="0.4"/><polygon points="170,164.3 176.4,159.7 171.7,155.5 165.4,160.1" fill="#4fed98" stroke="#4fed98" stroke-width="0.4"/><polygon points="192.2,163.4 198.7,158.8 193.9,154.6 187.5,159.2" fill="#4fed8d" stroke="#4fed8d" stroke-width="0.4"/><polygon points="214.6,162.4 221.1,157.7 216.4,153.6 209.8,158.3" fill="#4fed83" stroke="#4fed83" stroke-width="0.4"/><polygon points="248.5,160.7 255.1,156 250.4,151.9 243.7,156.6" fill="#4fed75" stroke="#4fed75" stroke-width="0.4"/><polygon points="72.8,167 78.9,162.5 74.3,158.2 68.3,162.6" fill="#4fedd3" stroke="#4fedd3" stroke-width="0.4"/><polygon points="94.1,166.6 100.2,162 95.6,157.8 89.5,162.3" fill="#4fedc4" stroke="#4fedc4" stroke-width="0.4"/><polygon points="104.8,166.3 110.9,161.8 106.3,157.5 100.2,162" fill="#4fedbd" stroke="#4fedbd" stroke-width="0.4"/><polygon points="126.3,165.7 132.6,161.2 127.9,157 121.7,161.5" fill="#4fedb0" stroke="#4fedb0" stroke-width="0.4"/><polygon points="148.1,165.1 154.4,160.5 149.7,156.3 143.4,160.8" fill="#4feda3" stroke="#4feda3" stroke-width="0.4"/><polygon points="181.1,163.8 187.5,159.2 182.8,155.1 176.4,159.7" fill="#4fed92" stroke="#4fed92" stroke-width="0.4"/><polygon points="203.4,162.9 209.8,158.3 205.1,154.1 198.7,158.8" fill="#4fed88" stroke="#4fed88" stroke-width="0.4"/><polygon points="225.8,161.8 232.4,157.2 227.6,153.1 221.1,157.7" fill="#4fed7e" stroke="#4fed7e" stroke-width="0.4"/><polygon points="237.1,161.3 243.7,156.6 239,152.5 232.4,157.2" fill="#4fed7a" stroke="#4fed7a" stroke-width="0.4"/><polygon points="259.9,160.1 266.6,155.4 261.8,151.3 255.1,156" fill="#4fed71" stroke="#4fed71" stroke-width="0.4"/><polygon points="77.3,171.3 83.4,166.8 78.9,162.5 72.8,167" fill="#4fede0" stroke="#4fede0" stroke-width="0.4"/><polygon points="88,171.1 94.1,166.6 89.5,162.3 83.4,166.8" fill="#4fedd8" stroke="#4fedd8" stroke-width="0.4"/><polygon points="109.3,170.6 115.5,166 110.9,161.8 104.8,166.3" fill="#4fedca" stroke="#4fedca" stroke-width="0.4"/><polygon points="120.1,170.3 126.3,165.7 121.7,161.5 115.5,166" fill="#4fedc4" stroke="#4fedc4" stroke-width="0.4"/><polygon points="130.9,170 137.2,165.4 132.6,161.2 126.3,165.7" fill="#4fedbd" stroke="#4fedbd" stroke-width="0.4"/><polygon points="141.8,169.6 148.1,165.1 143.4,160.8 137.2,165.4" fill="#4fedb7" stroke="#4fedb7" stroke-width="0.4"/><polygon points="152.7,169.3 159,164.7 154.4,160.5 148.1,165.1" fill="#4fedb1" stroke="#4fedb1" stroke-width="0.4"/><polygon points="163.7,168.9 170,164.3 165.4,160.1 159,164.7" fill="#4fedab" stroke="#4fedab" stroke-width="0.4"/><polygon points="174.7,168.5 181.1,163.8 176.4,159.7 170,164.3" fill="#4feda5" stroke="#4feda5" stroke-width="0.4"/><polygon points="185.8,168 192.2,163.4 187.5,159.2 181.1,163.8" fill="#4feda0" stroke="#4feda0" stroke-width="0.4"/><polygon points="196.9,167.5 203.4,162.9 198.7,158.8 192.2,163.4" fill="#4fed9b" stroke="#4fed9b" stroke-width="0.4"/><polygon points="208.1,167 214.6,162.4 209.8,158.3 203.4,162.9" fill="#4fed96" stroke="#4fed96" stroke-width="0.4"/><polygon points="219.3,166.5 225.8,161.8 221.1,157.7 214.6,162.4" fill="#4fed91" stroke="#4fed91" stroke-width="0.4"/><polygon points="241.9,165.4 248.5,160.7 243.7,156.6 237.1,161.3" fill="#4fed88" stroke="#4fed88" stroke-width="0.4"/><polygon points="253.2,164.8 259.9,160.1 255.1,156 248.5,160.7" fill="#4fed84" stroke="#4fed84" stroke-width="0.4"/><polygon points="98.6,170.9 104.8,166.3 100.2,162 94.1,166.6" fill="#4fedd1" stroke="#4fedd1" stroke-width="0.4"/><polygon points="230.5,166 237.1,161.3 232.4,157.2 225.8,161.8" fill="#4fed8c" stroke="#4fed8c" stroke-width="0.4"/><polygon points="81.9,175.6 88,171.1 83.4,166.8 77.3,171.3" fill="#4fedec" stroke="#4fedec" stroke-width="0.4"/><polygon points="92.5,175.4 98.6,170.9 94.1,166.6 88,171.1" fill="#4fede5" stroke="#4fede5" stroke-width="0.4"/><polygon points="103.2,175.2 109.3,170.6 104.8,166.3 98.6,170.9" fill="#4fedde" stroke="#4fedde" stroke-width="0.4"/><polygon points="113.9,174.9 120.1,170.3 115.5,166 109.3,170.6" fill="#4fedd7" stroke="#4fedd7" stroke-width="0.4"/><polygon points="124.7,174.6 130.9,170 126.3,165.7 120.1,170.3" fill="#4fedd1" stroke="#4fedd1" stroke-width="0.4"/><polygon points="135.5,174.2 141.8,169.6 137.2,165.4 130.9,170" fill="#4fedca" stroke="#4fedca" stroke-width="0.4"/><polygon points="146.4,173.9 152.7,169.3 148.1,165.1 141.8,169.6" fill="#4fedc4" stroke="#4fedc4" stroke-width="0.4"/><polygon points="157.3,173.5 163.7,168.9 159,164.7 152.7,169.3" fill="#4fedbe" stroke="#4fedbe" stroke-width="0.4"/><polygon points="168.3,173.1 174.7,168.5 170,164.3 163.7,168.9" fill="#4fedb8" stroke="#4fedb8" stroke-width="0.4"/><polygon points="179.4,172.7 185.8,168 181.1,163.8 174.7,168.5" fill="#4fedb3" stroke="#4fedb3" stroke-width="0.4"/><polygon points="190.4,172.2 196.9,167.5 192.2,163.4 185.8,168" fill="#4fedad" stroke="#4fedad" stroke-width="0.4"/><polygon points="201.6,171.7 208.1,167 203.4,162.9 196.9,167.5" fill="#4feda8" stroke="#4feda8" stroke-width="0.4"/><polygon points="212.7,171.2 219.3,166.5 214.6,162.4 208.1,167" fill="#4feda3" stroke="#4feda3" stroke-width="0.4"/><polygon points="224,170.7 230.5,166 225.8,161.8 219.3,166.5" fill="#4fed9f" stroke="#4fed9f" stroke-width="0.4"/><polygon points="235.2,170.1 241.9,165.4 237.1,161.3 230.5,166" fill="#4fed9a" stroke="#4fed9a" stroke-width="0.4"/><polygon points="246.6,169.5 253.2,164.8 248.5,160.7 241.9,165.4" fill="#4fed96" stroke="#4fed96" stroke-width="0.4"/><polygon points="97,179.7 103.2,175.2 98.6,170.9 92.5,175.4" fill="#4fedf2" stroke="#4fedf2" stroke-width="0.4"/><polygon points="118.5,179.2 124.7,174.6 120.1,170.3 113.9,174.9" fill="#4fede4" stroke="#4fede4" stroke-width="0.4"/><polygon points="206.2,175.9 212.7,171.2 208.1,167 201.6,171.7" fill="#4fedb6" stroke="#4fedb6" stroke-width="0.4"/><polygon points="228.7,174.8 235.2,170.1 230.5,166 224,170.7" fill="#4fedad" stroke="#4fedad" stroke-width="0.4"/><polygon points="86.4,180 92.5,175.4 88,171.1 81.9,175.6" fill="#4fedf9" stroke="#4fedf9" stroke-width="0.4"/><polygon points="107.7,179.5 113.9,174.9 109.3,170.6 103.2,175.2" fill="#4fedeb" stroke="#4fedeb" stroke-width="0.4"/><polygon points="129.3,178.9 135.5,174.2 130.9,170 124.7,174.6" fill="#4fedde" stroke="#4fedde" stroke-width="0.4"/><polygon points="140.1,178.5 146.4,173.9 141.8,169.6 135.5,174.2" fill="#4fedd7" stroke="#4fedd7" stroke-width="0.4"/><polygon points="151,178.1 157.3,173.5 152.7,169.3 146.4,173.9" fill="#4fedd1" stroke="#4fedd1" stroke-width="0.4"/><polygon points="162,177.7 168.3,173.1 163.7,168.9 157.3,173.5" fill="#4fedcb" stroke="#4fedcb" stroke-width="0.4"/><polygon points="173,177.3 179.4,172.7 174.7,168.5 168.3,173.1" fill="#4fedc6" stroke="#4fedc6" stroke-width="0.4"/><polygon points="184,176.9 190.4,172.2 185.8,168 179.4,172.7" fill="#4fedc0" stroke="#4fedc0" stroke-width="0.4"/><polygon points="195.1,176.4 201.6,171.7 196.9,167.5 190.4,172.2" fill="#4fedbb" stroke="#4fedbb" stroke-width="0.4"/><polygon points="217.4,175.4 224,170.7 219.3,166.5 212.7,171.2" fill="#4fedb1" stroke="#4fedb1" stroke-width="0.4"/><polygon points="240,174.2 246.6,169.5 241.9,165.4 235.2,170.1" fill="#4feda8" stroke="#4feda8" stroke-width="0.4"/><polygon points="90.9,184.3 97,179.7 92.5,175.4 86.4,180" fill="#4fe7ff" stroke="#4fe7ff" stroke-width="0.4"/><polygon points="101.6,184.1 107.7,179.5 103.2,175.2 97,179.7" fill="#4fedfe" stroke="#4fedfe" stroke-width="0.4"/><polygon points="112.3,183.8 118.5,179.2 113.9,174.9 107.7,179.5" fill="#4fedf8" stroke="#4fedf8" stroke-width="0.4"/><polygon points="123,183.5 129.3,178.9 124.7,174.6 118.5,179.2" fill="#4fedf1" stroke="#4fedf1" stroke-width="0.4"/><polygon points="133.9,183.1 140.1,178.5 135.5,174.2 129.3,178.9" fill="#4fedea" stroke="#4fedea" stroke-width="0.4"/><polygon points="144.7,182.8 151,178.1 146.4,173.9 140.1,178.5" fill="#4fede4" stroke="#4fede4" stroke-width="0.4"/><polygon points="177.6,181.5 184,176.9 179.4,172.7 173,177.3" fill="#4fedd3" stroke="#4fedd3" stroke-width="0.4"/><polygon points="188.6,181.1 195.1,176.4 190.4,172.2 184,176.9" fill="#4fedce" stroke="#4fedce" stroke-width="0.4"/><polygon points="199.8,180.6 206.2,175.9 201.6,171.7 195.1,176.4" fill="#4fedc8" stroke="#4fedc8" stroke-width="0.4"/><polygon points="210.9,180.1 217.4,175.4 212.7,171.2 206.2,175.9" fill="#4fedc4" stroke="#4fedc4" stroke-width="0.4"/><polygon points="222.1,179.5 228.7,174.8 224,170.7 217.4,175.4" fill="#4fedbf" stroke="#4fedbf" stroke-width="0.4"/><polygon points="233.4,179 240,174.2 235.2,170.1 228.7,174.8" fill="#4fedba" stroke="#4fedba" stroke-width="0.4"/><polygon points="155.6,182.4 162,177.7 157.3,173.5 151,178.1" fill="#4fedde" stroke="#4fedde" stroke-width="0.4"/><polygon points="166.6,182 173,177.3 168.3,173.1 162,177.7" fill="#4fedd8" stroke="#4fedd8" stroke-width="0.4"/><polygon points="106.1,188.4 112.3,183.8 107.7,179.5 101.6,184.1" fill="#4fe2ff" stroke="#4fe2ff" stroke-width="0.4"/><polygon points="138.4,187.4 144.7,182.8 140.1,178.5 133.9,183.1" fill="#4fedf7" stroke="#4fedf7" stroke-width="0.4"/><polygon points="182.2,185.8 188.6,181.1 184,176.9 177.6,181.5" fill="#4fede0" stroke="#4fede0" stroke-width="0.4"/><polygon points="215.6,184.3 222.1,179.5 217.4,175.4 210.9,180.1" fill="#4fedd1" stroke="#4fedd1" stroke-width="0.4"/><polygon points="95.4,188.7 101.6,184.1 97,179.7 90.9,184.3" fill="#4fdcff" stroke="#4fdcff" stroke-width="0.4"/><polygon points="116.8,188.1 123,183.5 118.5,179.2 112.3,183.8" fill="#4fe8ff" stroke="#4fe8ff" stroke-width="0.4"/><polygon points="127.6,187.8 133.9,183.1 129.3,178.9 123,183.5" fill="#4fedfe" stroke="#4fedfe" stroke-width="0.4"/><polygon points="149.3,187.1 155.6,182.4 151,178.1 144.7,182.8" fill="#4fedf1" stroke="#4fedf1" stroke-width="0.4"/><polygon points="160.2,186.7 166.6,182 162,177.7 155.6,182.4" fill="#4fedeb" stroke="#4fedeb" stroke-width="0.4"/><polygon points="171.2,186.2 177.6,181.5 173,177.3 166.6,182" fill="#4fede6" stroke="#4fede6" stroke-width="0.4"/><polygon points="193.3,185.3 199.8,180.6 195.1,176.4 188.6,181.1" fill="#4feddb" stroke="#4feddb" stroke-width="0.4"/><polygon points="204.4,184.8 210.9,180.1 206.2,175.9 199.8,180.6" fill="#4fedd6" stroke="#4fedd6" stroke-width="0.4"/><polygon points="226.8,183.7 233.4,179 228.7,174.8 222.1,179.5" fill="#4fedcc" stroke="#4fedcc" stroke-width="0.4"/><polygon points="99.9,193 106.1,188.4 101.6,184.1 95.4,188.7" fill="#4fd0ff" stroke="#4fd0ff" stroke-width="0.4"/><polygon points="110.6,192.7 116.8,188.1 112.3,183.8 106.1,188.4" fill="#4fd7ff" stroke="#4fd7ff" stroke-width="0.4"/><polygon points="121.4,192.4 127.6,187.8 123,183.5 116.8,188.1" fill="#4fddff" stroke="#4fddff" stroke-width="0.4"/><polygon points="132.2,192.1 138.4,187.4 133.9,183.1 127.6,187.8" fill="#4fe3ff" stroke="#4fe3ff" stroke-width="0.4"/><polygon points="143,191.7 149.3,187.1 144.7,182.8 138.4,187.4" fill="#4fe9ff" stroke="#4fe9ff" stroke-width="0.4"/><polygon points="153.9,191.3 160.2,186.7 155.6,182.4 149.3,187.1" fill="#4fedfe" stroke="#4fedfe" stroke-width="0.4"/><polygon points="164.8,190.9 171.2,186.2 166.6,182 160.2,186.7" fill="#4fedf8" stroke="#4fedf8" stroke-width="0.4"/><polygon points="175.8,190.5 182.2,185.8 177.6,181.5 171.2,186.2" fill="#4fedf2" stroke="#4fedf2" stroke-width="0.4"/><polygon points="186.8,190 193.3,185.3 188.6,181.1 182.2,185.8" fill="#4feded" stroke="#4feded" stroke-width="0.4"/><polygon points="197.9,189.5 204.4,184.8 199.8,180.6 193.3,185.3" fill="#4fede8" stroke="#4fede8" stroke-width="0.4"/><polygon points="209,189 215.6,184.3 210.9,180.1 204.4,184.8" fill="#4fede3" stroke="#4fede3" stroke-width="0.4"/><polygon points="220.2,188.5 226.8,183.7 222.1,179.5 215.6,184.3" fill="#4fedde" stroke="#4fedde" stroke-width="0.4"/><polygon points="104.4,197.4 110.6,192.7 106.1,188.4 99.9,193" fill="#4fc5ff" stroke="#4fc5ff" stroke-width="0.4"/><polygon points="115.2,197.1 121.4,192.4 116.8,188.1 110.6,192.7" fill="#4fcbff" stroke="#4fcbff" stroke-width="0.4"/><polygon points="125.9,196.8 132.2,192.1 127.6,187.8 121.4,192.4" fill="#4fd1ff" stroke="#4fd1ff" stroke-width="0.4"/><polygon points="136.7,196.4 143,191.7 138.4,187.4 132.2,192.1" fill="#4fd7ff" stroke="#4fd7ff" stroke-width="0.4"/><polygon points="147.6,196 153.9,191.3 149.3,187.1 143,191.7" fill="#4fddff" stroke="#4fddff" stroke-width="0.4"/><polygon points="158.5,195.6 164.8,190.9 160.2,186.7 153.9,191.3" fill="#4fe2ff" stroke="#4fe2ff" stroke-width="0.4"/><polygon points="169.4,195.2 175.8,190.5 171.2,186.2 164.8,190.9" fill="#4fe8ff" stroke="#4fe8ff" stroke-width="0.4"/><polygon points="180.4,194.7 186.8,190 182.2,185.8 175.8,190.5" fill="#4fedff" stroke="#4fedff" stroke-width="0.4"/><polygon points="191.4,194.3 197.9,189.5 193.3,185.3 186.8,190" fill="#4fedfa" stroke="#4fedfa" stroke-width="0.4"/><polygon points="202.5,193.8 209,189 204.4,184.8 197.9,189.5" fill="#4fedf5" stroke="#4fedf5" stroke-width="0.4"/><polygon points="213.7,193.2 220.2,188.5 215.6,184.3 209,189" fill="#4fedf0" stroke="#4fedf0" stroke-width="0.4"/><polygon points="109,201.8 115.2,197.1 110.6,192.7 104.4,197.4" fill="#4fbaff" stroke="#4fbaff" stroke-width="0.4"/><polygon points="119.7,201.4 125.9,196.8 121.4,192.4 115.2,197.1" fill="#4fc0ff" stroke="#4fc0ff" stroke-width="0.4"/><polygon points="152.1,200.3 158.5,195.6 153.9,191.3 147.6,196" fill="#4fd1ff" stroke="#4fd1ff" stroke-width="0.4"/><polygon points="163,199.9 169.4,195.2 164.8,190.9 158.5,195.6" fill="#4fd7ff" stroke="#4fd7ff" stroke-width="0.4"/><polygon points="196.1,198.5 202.5,193.8 197.9,189.5 191.4,194.3" fill="#4fe6ff" stroke="#4fe6ff" stroke-width="0.4"/><polygon points="207.2,198 213.7,193.2 209,189 202.5,193.8" fill="#4feaff" stroke="#4feaff" stroke-width="0.4"/><polygon points="130.4,201.1 136.7,196.4 132.2,192.1 125.9,196.8" fill="#4fc6ff" stroke="#4fc6ff" stroke-width="0.4"/><polygon points="141.3,200.7 147.6,196 143,191.7 136.7,196.4" fill="#4fccff" stroke="#4fccff" stroke-width="0.4"/><polygon points="174,199.5 180.4,194.7 175.8,190.5 169.4,195.2" fill="#4fdcff" stroke="#4fdcff" stroke-width="0.4"/><polygon points="185,199 191.4,194.3 186.8,190 180.4,194.7" fill="#4fe1ff" stroke="#4fe1ff" stroke-width="0.4"/><polygon points="113.5,206.1 119.7,201.4 115.2,197.1 109,201.8" fill="#4faeff" stroke="#4faeff" stroke-width="0.4"/><polygon points="135,205.4 141.3,200.7 136.7,196.4 130.4,201.1" fill="#4fbbff" stroke="#4fbbff" stroke-width="0.4"/><polygon points="145.8,205.1 152.1,200.3 147.6,196 141.3,200.7" fill="#4fc0ff" stroke="#4fc0ff" stroke-width="0.4"/><polygon points="156.7,204.6 163,199.9 158.5,195.6 152.1,200.3" fill="#4fc6ff" stroke="#4fc6ff" stroke-width="0.4"/><polygon points="167.6,204.2 174,199.5 169.4,195.2 163,199.9" fill="#4fcbff" stroke="#4fcbff" stroke-width="0.4"/><polygon points="178.6,203.8 185,199 180.4,194.7 174,199.5" fill="#4fd0ff" stroke="#4fd0ff" stroke-width="0.4"/><polygon points="200.7,202.8 207.2,198 202.5,193.8 196.1,198.5" fill="#4fdaff" stroke="#4fdaff" stroke-width="0.4"/><polygon points="124.2,205.8 130.4,201.1 125.9,196.8 119.7,201.4" fill="#4fb5ff" stroke="#4fb5ff" stroke-width="0.4"/><polygon points="189.6,203.3 196.1,198.5 191.4,194.3 185,199" fill="#4fd5ff" stroke="#4fd5ff" stroke-width="0.4"/><polygon points="118,210.5 124.2,205.8 119.7,201.4 113.5,206.1" fill="#4fa3ff" stroke="#4fa3ff" stroke-width="0.4"/><polygon points="128.7,210.2 135,205.4 130.4,201.1 124.2,205.8" fill="#4fa9ff" stroke="#4fa9ff" stroke-width="0.4"/><polygon points="139.5,209.8 145.8,205.1 141.3,200.7 135,205.4" fill="#4fafff" stroke="#4fafff" stroke-width="0.4"/><polygon points="150.3,209.4 156.7,204.6 152.1,200.3 145.8,205.1" fill="#4fb5ff" stroke="#4fb5ff" stroke-width="0.4"/><polygon points="161.2,209 167.6,204.2 163,199.9 156.7,204.6" fill="#4fbaff" stroke="#4fbaff" stroke-width="0.4"/><polygon points="172.2,208.5 178.6,203.8 174,199.5 167.6,204.2" fill="#4fc0ff" stroke="#4fc0ff" stroke-width="0.4"/><polygon points="183.2,208 189.6,203.3 185,199 178.6,203.8" fill="#4fc5ff" stroke="#4fc5ff" stroke-width="0.4"/><polygon points="194.2,207.5 200.7,202.8 196.1,198.5 189.6,203.3" fill="#4fcaff" stroke="#4fcaff" stroke-width="0.4"/><polygon points="144,214.1 150.3,209.4 145.8,205.1 139.5,209.8" fill="#4fa4ff" stroke="#4fa4ff" stroke-width="0.4"/><polygon points="165.8,213.3 172.2,208.5 167.6,204.2 161.2,209" fill="#4fafff" stroke="#4fafff" stroke-width="0.4"/><polygon points="122.5,214.9 128.7,210.2 124.2,205.8 118,210.5" fill="#4f99ff" stroke="#4f99ff" stroke-width="0.4"/><polygon points="133.2,214.5 139.5,209.8 135,205.4 128.7,210.2" fill="#4f9eff" stroke="#4f9eff" stroke-width="0.4"/><polygon points="154.9,213.7 161.2,209 156.7,204.6 150.3,209.4" fill="#4faaff" stroke="#4faaff" stroke-width="0.4"/><polygon points="176.7,212.8 183.2,208 178.6,203.8 172.2,208.5" fill="#4fb4ff" stroke="#4fb4ff" stroke-width="0.4"/><polygon points="187.7,212.3 194.2,207.5 189.6,203.3 183.2,208" fill="#4fb9ff" stroke="#4fb9ff" stroke-width="0.4"/><polygon points="127,219.3 133.2,214.5 128.7,210.2 122.5,214.9" fill="#4f8eff" stroke="#4f8eff" stroke-width="0.4"/><polygon points="137.7,218.9 144,214.1 139.5,209.8 133.2,214.5" fill="#4f94ff" stroke="#4f94ff" stroke-width="0.4"/><polygon points="148.6,218.5 154.9,213.7 150.3,209.4 144,214.1" fill="#4f99ff" stroke="#4f99ff" stroke-width="0.4"/><polygon points="159.4,218.1 165.8,213.3 161.2,209 154.9,213.7" fill="#4f9fff" stroke="#4f9fff" stroke-width="0.4"/><polygon points="170.3,217.6 176.7,212.8 172.2,208.5 165.8,213.3" fill="#4fa4ff" stroke="#4fa4ff" stroke-width="0.4"/><polygon points="181.3,217.1 187.7,212.3 183.2,208 176.7,212.8" fill="#4fa9ff" stroke="#4fa9ff" stroke-width="0.4"/><polygon points="131.4,223.6 137.7,218.9 133.2,214.5 127,219.3" fill="#4f83ff" stroke="#4f83ff" stroke-width="0.4"/><polygon points="142.2,223.3 148.6,218.5 144,214.1 137.7,218.9" fill="#4f89ff" stroke="#4f89ff" stroke-width="0.4"/><polygon points="153.1,222.8 159.4,218.1 154.9,213.7 148.6,218.5" fill="#4f8eff" stroke="#4f8eff" stroke-width="0.4"/><polygon points="163.9,222.4 170.3,217.6 165.8,213.3 159.4,218.1" fill="#4f94ff" stroke="#4f94ff" stroke-width="0.4"/><polygon points="174.9,221.9 181.3,217.1 176.7,212.8 170.3,217.6" fill="#4f99ff" stroke="#4f99ff" stroke-width="0.4"/><polygon points="146.7,227.6 153.1,222.8 148.6,218.5 142.2,223.3" fill="#4f7eff" stroke="#4f7eff" stroke-width="0.4"/><polygon points="157.6,227.2 163.9,222.4 159.4,218.1 153.1,222.8" fill="#4f83ff" stroke="#4f83ff" stroke-width="0.4"/><polygon points="135.9,228 142.2,223.3 137.7,218.9 131.4,223.6" fill="#4f78ff" stroke="#4f78ff" stroke-width="0.4"/><polygon points="168.5,226.7 174.9,221.9 170.3,217.6 163.9,222.4" fill="#4f89ff" stroke="#4f89ff" stroke-width="0.4"/><polygon points="140.4,232.4 146.7,227.6 142.2,223.3 135.9,228" fill="#4f6eff" stroke="#4f6eff" stroke-width="0.4"/><polygon points="151.2,232 157.6,227.2 153.1,222.8 146.7,227.6" fill="#4f73ff" stroke="#4f73ff" stroke-width="0.4"/><polygon points="162.1,231.6 168.5,226.7 163.9,222.4 157.6,227.2" fill="#4f79ff" stroke="#4f79ff" stroke-width="0.4"/><polygon points="144.9,236.8 151.2,232 146.7,227.6 140.4,232.4" fill="#4f63ff" stroke="#4f63ff" stroke-width="0.4"/><polygon points="155.7,236.4 162.1,231.6 157.6,227.2 151.2,232" fill="#4f69ff" stroke="#4f69ff" stroke-width="0.4"/><polygon points="149.4,241.2 155.7,236.4 151.2,232 144.9,236.8" fill="#4f59ff" stroke="#4f59ff" stroke-width="0.4"/></g>
<path d="M149.4 241.2L144.9 236.8 140.4 232.4 135.9 228 131.4 223.6 127 219.3 122.5 214.9 118 210.5 113.5 206.1 109 201.8 104.4 197.4 99.9 193 95.4 188.7 90.9 184.3 86.4 180 81.9 175.6 77.3 171.3 72.8 167 68.3 162.6 63.7 158.3 59.2 154M149.4 241.2L155.7 236.4 162.1 231.6 168.5 226.7 174.9 221.9 181.3 217.1 187.7 212.3 194.2 207.5 200.7 202.8 207.2 198 213.7 193.2 220.2 188.5 226.8 183.7 233.4 179 240 174.2 246.6 169.5 253.2 164.8 259.9 160.1 266.6 155.4 273.3 150.7 280 146M155.7 236.4L151.2 232 146.7 227.6 142.2 223.3 137.7 218.9 133.2 214.5 128.7 210.2 124.2 205.8 119.7 201.4 115.2 197.1 110.6 192.7 106.1 188.4 101.6 184.1 97 179.7 92.5 175.4 88 171.1 83.4 166.8 78.9 162.5 74.3 158.2 69.8 153.9 65.2 149.6M144.9 236.8L151.2 232 157.6 227.2 163.9 222.4 170.3 217.6 176.7 212.8 183.2 208 189.6 203.3 196.1 198.5 202.5 193.8 209 189 215.6 184.3 222.1 179.5 228.7 174.8 235.2 170.1 241.9 165.4 248.5 160.7 255.1 156 261.8 151.3 268.5 146.7 275.2 142M162.1 231.6L157.6 227.2 153.1 222.8 148.6 218.5 144 214.1 139.5 209.8 135 205.4 130.4 201.1 125.9 196.8 121.4 192.4 116.8 188.1 112.3 183.8 107.7 179.5 103.2 175.2 98.6 170.9 94.1 166.6 89.5 162.3 84.9 158 80.4 153.7 75.8 149.4 71.2 145.2M140.4 232.4L146.7 227.6 153.1 222.8 159.4 218.1 165.8 213.3 172.2 208.5 178.6 203.8 185 199 191.4 194.3 197.9 189.5 204.4 184.8 210.9 180.1 217.4 175.4 224 170.7 230.5 166 237.1 161.3 243.7 156.6 250.4 151.9 257 147.3 263.7 142.6 270.4 138M168.5 226.7L163.9 222.4 159.4 218.1 154.9 213.7 150.3 209.4 145.8 205.1 141.3 200.7 136.7 196.4 132.2 192.1 127.6 187.8 123 183.5 118.5 179.2 113.9 174.9 109.3 170.6 104.8 166.3 100.2 162 95.6 157.8 91 153.5 86.4 149.2 81.8 145 77.2 140.8M135.9 228L142.2 223.3 148.6 218.5 154.9 213.7 161.2 209 167.6 204.2 174 199.5 180.4 194.7 186.8 190 193.3 185.3 199.8 180.6 206.2 175.9 212.7 171.2 219.3 166.5 225.8 161.8 232.4 157.2 239 152.5 245.6 147.9 252.2 143.2 258.9 138.6 265.5 134M174.9 221.9L170.3 217.6 165.8 213.3 161.2 209 156.7 204.6 152.1 200.3 147.6 196 143 191.7 138.4 187.4 133.9 183.1 129.3 178.9 124.7 174.6 120.1 170.3 115.5 166 110.9 161.8 106.3 157.5 101.7 153.3 97.1 149 92.5 144.8 87.9 140.6 83.3 136.4M131.4 223.6L137.7 218.9 144 214.1 150.3 209.4 156.7 204.6 163 199.9 169.4 195.2 175.8 190.5 182.2 185.8 188.6 181.1 195.1 176.4 201.6 171.7 208.1 167 214.6 162.4 221.1 157.7 227.6 153.1 234.2 148.5 240.8 143.8 247.4 139.2 254 134.6 260.7 130M181.3 217.1L176.7 212.8 172.2 208.5 167.6 204.2 163 199.9 158.5 195.6 153.9 191.3 149.3 187.1 144.7 182.8 140.1 178.5 135.5 174.2 130.9 170 126.3 165.7 121.7 161.5 117.1 157.3 112.5 153 107.9 148.8 103.2 144.6 98.6 140.4 94 136.2 89.3 132M127 219.3L133.2 214.5 139.5 209.8 145.8 205.1 152.1 200.3 158.5 195.6 164.8 190.9 171.2 186.2 177.6 181.5 184 176.9 190.4 172.2 196.9 167.5 203.4 162.9 209.8 158.3 216.4 153.6 222.9 149 229.4 144.4 236 139.8 242.6 135.2 249.2 130.6 255.8 126M187.7 212.3L183.2 208 178.6 203.8 174 199.5 169.4 195.2 164.8 190.9 160.2 186.7 155.6 182.4 151 178.1 146.4 173.9 141.8 169.6 137.2 165.4 132.6 161.2 127.9 157 123.3 152.7 118.7 148.5 114 144.3 109.4 140.1 104.7 136 100 131.8 95.4 127.6M122.5 214.9L128.7 210.2 135 205.4 141.3 200.7 147.6 196 153.9 191.3 160.2 186.7 166.6 182 173 177.3 179.4 172.7 185.8 168 192.2 163.4 198.7 158.8 205.1 154.1 211.6 149.5 218.1 144.9 224.6 140.3 231.2 135.8 237.8 131.2 244.3 126.6 250.9 122.1M194.2 207.5L189.6 203.3 185 199 180.4 194.7 175.8 190.5 171.2 186.2 166.6 182 162 177.7 157.3 173.5 152.7 169.3 148.1 165.1 143.4 160.8 138.8 156.6 134.2 152.4 129.5 148.2 124.8 144.1 120.2 139.9 115.5 135.7 110.8 131.6 106.1 127.4 101.4 123.3M118 210.5L124.2 205.8 130.4 201.1 136.7 196.4 143 191.7 149.3 187.1 155.6 182.4 162 177.7 168.3 173.1 174.7 168.5 181.1 163.8 187.5 159.2 193.9 154.6 200.4 150 206.9 145.4 213.3 140.9 219.8 136.3 226.4 131.7 232.9 127.2 239.5 122.7 246.1 118.1M200.7 202.8L196.1 198.5 191.4 194.3 186.8 190 182.2 185.8 177.6 181.5 173 177.3 168.3 173.1 163.7 168.9 159 164.7 154.4 160.5 149.7 156.3 145.1 152.1 140.4 147.9 135.7 143.8 131 139.6 126.3 135.4 121.7 131.3 116.9 127.2 112.2 123.1 107.5 118.9M113.5 206.1L119.7 201.4 125.9 196.8 132.2 192.1 138.4 187.4 144.7 182.8 151 178.1 157.3 173.5 163.7 168.9 170 164.3 176.4 159.7 182.8 155.1 189.2 150.5 195.6 145.9 202.1 141.4 208.6 136.8 215 132.3 221.5 127.7 228.1 123.2 234.6 118.7 241.2 114.2M207.2 198L202.5 193.8 197.9 189.5 193.3 185.3 188.6 181.1 184 176.9 179.4 172.7 174.7 168.5 170 164.3 165.4 160.1 160.7 155.9 156 151.7 151.3 147.6 146.7 143.4 142 139.3 137.2 135.1 132.5 131 127.8 126.9 123.1 122.8 118.4 118.7 113.6 114.6M109 201.8L115.2 197.1 121.4 192.4 127.6 187.8 133.9 183.1 140.1 178.5 146.4 173.9 152.7 169.3 159 164.7 165.4 160.1 171.7 155.5 178.1 150.9 184.5 146.4 190.9 141.8 197.3 137.3 203.8 132.8 210.2 128.2 216.7 123.7 223.2 119.2 229.7 114.8 236.3 110.3M213.7 193.2L209 189 204.4 184.8 199.8 180.6 195.1 176.4 190.4 172.2 185.8 168 181.1 163.8 176.4 159.7 171.7 155.5 167 151.4 162.3 147.2 157.6 143.1 152.9 138.9 148.2 134.8 143.5 130.7 138.7 126.6 134 122.5 129.3 118.4 124.5 114.4 119.7 110.3M104.4 197.4L110.6 192.7 116.8 188.1 123 183.5 129.3 178.9 135.5 174.2 141.8 169.6 148.1 165.1 154.4 160.5 160.7 155.9 167 151.4 173.4 146.8 179.8 142.3 186.1 137.7 192.6 133.2 199 128.7 205.4 124.2 211.9 119.7 218.3 115.3 224.8 110.8 231.3 106.4M220.2 188.5L215.6 184.3 210.9 180.1 206.2 175.9 201.6 171.7 196.9 167.5 192.2 163.4 187.5 159.2 182.8 155.1 178.1 150.9 173.4 146.8 168.7 142.7 163.9 138.6 159.2 134.5 154.5 130.4 149.7 126.3 145 122.2 140.2 118.1 135.4 114.1 130.6 110 125.9 106M99.9 193L106.1 188.4 112.3 183.8 118.5 179.2 124.7 174.6 130.9 170 137.2 165.4 143.4 160.8 149.7 156.3 156 151.7 162.3 147.2 168.7 142.7 175 138.2 181.4 133.7 187.8 129.2 194.2 124.7 200.6 120.2 207 115.8 213.5 111.3 219.9 106.9 226.4 102.5M226.8 183.7L222.1 179.5 217.4 175.4 212.7 171.2 208.1 167 203.4 162.9 198.7 158.8 193.9 154.6 189.2 150.5 184.5 146.4 179.8 142.3 175 138.2 170.3 134.1 165.5 130 160.7 125.9 156 121.9 151.2 117.8 146.4 113.8 141.6 109.8 136.8 105.7 132 101.7M95.4 188.7L101.6 184.1 107.7 179.5 113.9 174.9 120.1 170.3 126.3 165.7 132.6 161.2 138.8 156.6 145.1 152.1 151.3 147.6 157.6 143.1 163.9 138.6 170.3 134.1 176.6 129.6 183 125.1 189.3 120.7 195.7 116.2 202.1 111.8 208.6 107.4 215 103 221.5 98.6M233.4 179L228.7 174.8 224 170.7 219.3 166.5 214.6 162.4 209.8 158.3 205.1 154.1 200.4 150 195.6 145.9 190.9 141.8 186.1 137.7 181.4 133.7 176.6 129.6 171.8 125.5 167 121.5 162.2 117.5 157.4 113.4 152.6 109.4 147.8 105.4 143 101.4 138.1 97.5M90.9 184.3L97 179.7 103.2 175.2 109.3 170.6 115.5 166 121.7 161.5 127.9 157 134.2 152.4 140.4 147.9 146.7 143.4 152.9 138.9 159.2 134.5 165.5 130 171.8 125.5 178.2 121.1 184.5 116.7 190.9 112.3 197.3 107.9 203.7 103.5 210.1 99.1 216.5 94.7M240 174.2L235.2 170.1 230.5 166 225.8 161.8 221.1 157.7 216.4 153.6 211.6 149.5 206.9 145.4 202.1 141.4 197.3 137.3 192.6 133.2 187.8 129.2 183 125.1 178.2 121.1 173.4 117.1 168.5 113.1 163.7 109.1 158.9 105.1 154 101.1 149.2 97.2 144.3 93.2M86.4 180L92.5 175.4 98.6 170.9 104.8 166.3 110.9 161.8 117.1 157.3 123.3 152.7 129.5 148.2 135.7 143.8 142 139.3 148.2 134.8 154.5 130.4 160.7 125.9 167 121.5 173.4 117.1 179.7 112.7 186 108.3 192.4 103.9 198.8 99.5 205.1 95.2 211.6 90.9M246.6 169.5L241.9 165.4 237.1 161.3 232.4 157.2 227.6 153.1 222.9 149 218.1 144.9 213.3 140.9 208.6 136.8 203.8 132.8 199 128.7 194.2 124.7 189.3 120.7 184.5 116.7 179.7 112.7 174.8 108.7 170 104.7 165.1 100.8 160.2 96.8 155.4 92.9 150.5 89M81.9 175.6L88 171.1 94.1 166.6 100.2 162 106.3 157.5 112.5 153 118.7 148.5 124.8 144.1 131 139.6 137.2 135.1 143.5 130.7 149.7 126.3 156 121.9 162.2 117.5 168.5 113.1 174.8 108.7 181.2 104.3 187.5 100 193.8 95.6 200.2 91.3 206.6 87M253.2 164.8L248.5 160.7 243.7 156.6 239 152.5 234.2 148.5 229.4 144.4 224.6 140.3 219.8 136.3 215 132.3 210.2 128.2 205.4 124.2 200.6 120.2 195.7 116.2 190.9 112.3 186 108.3 181.2 104.3 176.3 100.4 171.4 96.5 166.5 92.5 161.6 88.6 156.6 84.7M77.3 171.3L83.4 166.8 89.5 162.3 95.6 157.8 101.7 153.3 107.9 148.8 114 144.3 120.2 139.9 126.3 135.4 132.5 131 138.7 126.6 145 122.2 151.2 117.8 157.4 113.4 163.7 109.1 170 104.7 176.3 100.4 182.6 96.1 188.9 91.8 195.2 87.5 201.6 83.2M259.9 160.1L255.1 156 250.4 151.9 245.6 147.9 240.8 143.8 236 139.8 231.2 135.8 226.4 131.7 221.5 127.7 216.7 123.7 211.9 119.7 207 115.8 202.1 111.8 197.3 107.9 192.4 103.9 187.5 100 182.6 96.1 177.7 92.2 172.7 88.3 167.8 84.4 162.8 80.5M72.8 167L78.9 162.5 84.9 158 91 153.5 97.1 149 103.2 144.6 109.4 140.1 115.5 135.7 121.7 131.3 127.8 126.9 134 122.5 140.2 118.1 146.4 113.8 152.6 109.4 158.9 105.1 165.1 100.8 171.4 96.5 177.7 92.2 184 87.9 190.3 83.6 196.6 79.4M266.6 155.4L261.8 151.3 257 147.3 252.2 143.2 247.4 139.2 242.6 135.2 237.8 131.2 232.9 127.2 228.1 123.2 223.2 119.2 218.3 115.3 213.5 111.3 208.6 107.4 203.7 103.5 198.8 99.5 193.8 95.6 188.9 91.8 184 87.9 179 84 174 80.2 169 76.3M68.3 162.6L74.3 158.2 80.4 153.7 86.4 149.2 92.5 144.8 98.6 140.4 104.7 136 110.8 131.6 116.9 127.2 123.1 122.8 129.3 118.4 135.4 114.1 141.6 109.8 147.8 105.4 154 101.1 160.2 96.8 166.5 92.5 172.7 88.3 179 84 185.3 79.8 191.6 75.6M273.3 150.7L268.5 146.7 263.7 142.6 258.9 138.6 254 134.6 249.2 130.6 244.3 126.6 239.5 122.7 234.6 118.7 229.7 114.8 224.8 110.8 219.9 106.9 215 103 210.1 99.1 205.1 95.2 200.2 91.3 195.2 87.5 190.3 83.6 185.3 79.8 180.3 76 175.3 72.2M63.7 158.3L69.8 153.9 75.8 149.4 81.8 145 87.9 140.6 94 136.2 100 131.8 106.1 127.4 112.2 123.1 118.4 118.7 124.5 114.4 130.6 110 136.8 105.7 143 101.4 149.2 97.2 155.4 92.9 161.6 88.6 167.8 84.4 174 80.2 180.3 76 186.5 71.8M280 146L275.2 142 270.4 138 265.5 134 260.7 130 255.8 126 250.9 122.1 246.1 118.1 241.2 114.2 236.3 110.3 231.3 106.4 226.4 102.5 221.5 98.6 216.5 94.7 211.6 90.9 206.6 87 201.6 83.2 196.6 79.4 191.6 75.6 186.5 71.8 181.5 68M59.2 154L65.2 149.6 71.2 145.2 77.2 140.8 83.3 136.4 89.3 132 95.4 127.6 101.4 123.3 107.5 118.9 113.6 114.6 119.7 110.3 125.9 106 132 101.7 138.1 97.5 144.3 93.2 150.5 89 156.6 84.7 162.8 80.5 169 76.3 175.3 72.2 181.5 68" fill="none" stroke="#161820" stroke-width="0.95" stroke-opacity="0.9"/>
<circle cx="58.6" cy="154.3" r="2.2" fill="#f4c0c0" stroke="#e0a0a0" stroke-width="0.5"/>
<circle cx="280.6" cy="144.3" r="2.4" fill="#b40000" stroke="#6a0000" stroke-width="0.5"/>
<circle cx="149.8" cy="237.6" r="2.3" fill="#b40000" stroke="#6a0000" stroke-width="0.5"/>
<circle cx="181.5" cy="65.2" r="2.6" fill="#fff" stroke="#6e1c1c" stroke-width="1.4"/>
<ellipse cx="179.3" cy="65.6" rx="19" ry="16" fill="none" stroke="#1a1a1a" stroke-width="1"/>
<text x="51.2" y="71.1" font-family="Liberation Sans" font-size="9.6" fill="#363636" text-anchor="end">25</text>
<text x="52.8" y="99.6" font-family="Liberation Sans" font-size="9.6" fill="#363636" text-anchor="end">20</text>
<text x="54" y="128.6" font-family="Liberation Sans" font-size="9.6" fill="#363636" text-anchor="end">15</text>
<text x="55.5" y="157" font-family="Liberation Sans" font-size="9.6" fill="#363636" text-anchor="end">10</text>
<text x="55.6" y="185.8" font-family="Liberation Sans" font-size="9.6" fill="#363636" text-anchor="end">5</text>
<text x="42.5" y="233" font-family="Liberation Sans" font-size="9.6" fill="#363636" text-anchor="start" textLength="14" lengthAdjust="spacingAndGlyphs">343</text>
<text x="60.8" y="245" font-family="Liberation Sans" font-size="9.6" fill="#363636" text-anchor="start" textLength="14" lengthAdjust="spacingAndGlyphs">334</text>
<text x="78.3" y="256.6" font-family="Liberation Sans" font-size="9.6" fill="#363636" text-anchor="start" textLength="14" lengthAdjust="spacingAndGlyphs">325</text>
<text x="95.8" y="268.6" font-family="Liberation Sans" font-size="9.6" fill="#363636" text-anchor="start" textLength="14" lengthAdjust="spacingAndGlyphs">316</text>
<text x="113.6" y="280" font-family="Liberation Sans" font-size="9.6" fill="#363636" text-anchor="start" textLength="14" lengthAdjust="spacingAndGlyphs">307</text>
<text x="131.3" y="291.8" font-family="Liberation Sans" font-size="9.6" fill="#363636" text-anchor="start" textLength="14" lengthAdjust="spacingAndGlyphs">298</text>
<text x="155.1" y="292.2" font-family="Liberation Sans" font-size="9.6" fill="#363636" text-anchor="start" textLength="15.4" lengthAdjust="spacingAndGlyphs">0.75</text>
<text x="180.7" y="282" font-family="Liberation Sans" font-size="9.6" fill="#363636" text-anchor="start">1</text>
<text x="206.4" y="273.4" font-family="Liberation Sans" font-size="9.6" fill="#363636" text-anchor="start" textLength="14.8" lengthAdjust="spacingAndGlyphs">1.25</text>
<text x="232" y="264.9" font-family="Liberation Sans" font-size="9.6" fill="#363636" text-anchor="start" textLength="9.7" lengthAdjust="spacingAndGlyphs">1.5</text>
<text x="256.7" y="255.7" font-family="Liberation Sans" font-size="9.6" fill="#363636" text-anchor="start" textLength="15.7" lengthAdjust="spacingAndGlyphs">1.75</text>
<text x="281" y="245.8" font-family="Liberation Sans" font-size="9.6" fill="#363636" text-anchor="start">2</text>
<text x="39.9" y="273.4" font-family="Liberation Sans" font-size="9.2" fill="#363636" text-anchor="start" textLength="41.8" lengthAdjust="spacingAndGlyphs">B: Temp (k)</text>
<text x="183.6" y="286.6" font-family="Liberation Sans" font-size="9.2" fill="#363636" text-anchor="start" textLength="133" lengthAdjust="spacingAndGlyphs">A: Leachant Concentration (mol/L)</text>
<text transform="translate(23.6,150.2) rotate(-90)" font-family="Liberation Sans" font-size="9.2" fill="#363636" text-anchor="middle" textLength="44.7" lengthAdjust="spacingAndGlyphs">REE (mg/L)</text>
<rect x="158.6" y="31.8" width="19" height="9" fill="#fff" stroke="#9a9a9a" stroke-width="0.7"/>
<text x="159.8" y="39.2" font-family="Liberation Sans" font-size="6.4" fill="#4a4a4a" text-anchor="start" textLength="18.6" lengthAdjust="spacingAndGlyphs">22.218</text>
<rect x="444.8" y="63.3" width="208.7" height="2.3" fill="url(#g0)"/>
<rect x="444.8" y="65" width="208.7" height="2.6" fill="url(#g1)"/>
<rect x="444.8" y="67" width="208.7" height="2.6" fill="url(#g2)"/>
<rect x="444.8" y="69" width="208.7" height="2.6" fill="url(#g3)"/>
<rect x="444.8" y="71" width="208.7" height="2.6" fill="url(#g4)"/>
<rect x="444.8" y="73" width="208.7" height="2.6" fill="url(#g5)"/>
<rect x="444.8" y="75" width="208.7" height="2.6" fill="url(#g6)"/>
<rect x="444.8" y="77" width="208.7" height="2.6" fill="url(#g7)"/>
<rect x="444.8" y="79" width="208.7" height="2.6" fill="url(#g8)"/>
<rect x="444.8" y="81" width="208.7" height="2.6" fill="url(#g9)"/>
<rect x="444.8" y="83" width="208.7" height="2.6" fill="url(#g10)"/>
<rect x="444.8" y="85" width="208.7" height="2.6" fill="url(#g11)"/>
<rect x="444.8" y="87" width="208.7" height="2.6" fill="url(#g12)"/>
<rect x="444.8" y="89" width="208.7" height="2.6" fill="url(#g13)"/>
<rect x="444.8" y="91" width="208.7" height="2.6" fill="url(#g14)"/>
<rect x="444.8" y="93" width="208.7" height="2.6" fill="url(#g15)"/>
<rect x="444.8" y="95" width="208.7" height="2.6" fill="url(#g16)"/>
<rect x="444.8" y="97" width="208.7" height="2.6" fill="url(#g17)"/>
<rect x="444.8" y="99" width="208.7" height="2.6" fill="url(#g18)"/>
<rect x="444.8" y="101" width="208.7" height="2.6" fill="url(#g19)"/>
<rect x="444.8" y="103" width="208.7" height="2.6" fill="url(#g20)"/>
<rect x="444.8" y="105" width="208.7" height="2.6" fill="url(#g21)"/>
<rect x="444.8" y="107" width="208.7" height="2.6" fill="url(#g22)"/>
<rect x="444.8" y="109" width="208.7" height="2.6" fill="url(#g23)"/>
<rect x="444.8" y="111" width="208.7" height="2.6" fill="url(#g24)"/>
<rect x="444.8" y="113" width="208.7" height="2.6" fill="url(#g25)"/>
<rect x="444.8" y="115" width="208.7" height="2.6" fill="url(#g26)"/>
<rect x="444.8" y="117" width="208.7" height="2.6" fill="url(#g27)"/>
<rect x="444.8" y="119" width="208.7" height="2.6" fill="url(#g28)"/>
<rect x="444.8" y="121" width="208.7" height="2.6" fill="url(#g29)"/>
<rect x="444.8" y="123" width="208.7" height="2.6" fill="url(#g30)"/>
<rect x="444.8" y="125" width="208.7" height="2.6" fill="url(#g31)"/>
<rect x="444.8" y="127" width="208.7" height="2.6" fill="url(#g32)"/>
<rect x="444.8" y="129" width="208.7" height="2.6" fill="url(#g33)"/>
<rect x="444.8" y="131" width="208.7" height="2.6" fill="url(#g34)"/>
<rect x="444.8" y="133" width="208.7" height="2.6" fill="url(#g35)"/>
<rect x="444.8" y="135" width="208.7" height="2.6" fill="url(#g36)"/>
<rect x="444.8" y="137" width="208.7" height="2.6" fill="url(#g37)"/>
<rect x="444.8" y="139" width="208.7" height="2.6" fill="url(#g38)"/>
<rect x="444.8" y="141" width="208.7" height="2.6" fill="url(#g39)"/>
<rect x="444.8" y="143" width="208.7" height="2.6" fill="url(#g40)"/>
<rect x="444.8" y="145" width="208.7" height="2.6" fill="url(#g41)"/>
<rect x="444.8" y="147" width="208.7" height="2.6" fill="url(#g42)"/>
<rect x="444.8" y="149" width="208.7" height="2.6" fill="url(#g43)"/>
<rect x="444.8" y="151" width="208.7" height="2.6" fill="url(#g44)"/>
<rect x="444.8" y="153" width="208.7" height="2.6" fill="url(#g45)"/>
<rect x="444.8" y="155" width="208.7" height="2.6" fill="url(#g46)"/>
<rect x="444.8" y="157" width="208.7" height="2.6" fill="url(#g47)"/>
<rect x="444.8" y="159" width="208.7" height="2.6" fill="url(#g48)"/>
<rect x="444.8" y="161" width="208.7" height="2.6" fill="url(#g49)"/>
<rect x="444.8" y="163" width="208.7" height="2.6" fill="url(#g50)"/>
<rect x="444.8" y="165" width="208.7" height="2.6" fill="url(#g51)"/>
<rect x="444.8" y="167" width="208.7" height="2.6" fill="url(#g52)"/>
<rect x="444.8" y="169" width="208.7" height="2.6" fill="url(#g53)"/>
<rect x="444.8" y="171" width="208.7" height="2.6" fill="url(#g54)"/>
<rect x="444.8" y="173" width="208.7" height="2.6" fill="url(#g55)"/>
<rect x="444.8" y="175" width="208.7" height="2.6" fill="url(#g56)"/>
<rect x="444.8" y="177" width="208.7" height="2.6" fill="url(#g57)"/>
<rect x="444.8" y="179" width="208.7" height="2.6" fill="url(#g58)"/>
<rect x="444.8" y="181" width="208.7" height="2.6" fill="url(#g59)"/>
<rect x="444.8" y="183" width="208.7" height="2.6" fill="url(#g60)"/>
<rect x="444.8" y="185" width="208.7" height="2.6" fill="url(#g61)"/>
<rect x="444.8" y="187" width="208.7" height="2.6" fill="url(#g62)"/>
<rect x="444.8" y="189" width="208.7" height="2.6" fill="url(#g63)"/>
<rect x="444.8" y="191" width="208.7" height="2.6" fill="url(#g64)"/>
<rect x="444.8" y="193" width="208.7" height="2.6" fill="url(#g65)"/>
<rect x="444.8" y="195" width="208.7" height="2.6" fill="url(#g66)"/>
<rect x="444.8" y="197" width="208.7" height="2.6" fill="url(#g67)"/>
<rect x="444.8" y="199" width="208.7" height="2.6" fill="url(#g68)"/>
<rect x="444.8" y="201" width="208.7" height="2.6" fill="url(#g69)"/>
<rect x="444.8" y="203" width="208.7" height="2.6" fill="url(#g70)"/>
<rect x="444.8" y="205" width="208.7" height="2.6" fill="url(#g71)"/>
<rect x="444.8" y="207" width="208.7" height="2.6" fill="url(#g72)"/>
<rect x="444.8" y="209" width="208.7" height="2.6" fill="url(#g73)"/>
<rect x="444.8" y="211" width="208.7" height="2.6" fill="url(#g74)"/>
<rect x="444.8" y="213" width="208.7" height="2.6" fill="url(#g75)"/>
<rect x="444.8" y="215" width="208.7" height="2.6" fill="url(#g76)"/>
<rect x="444.8" y="217" width="208.7" height="2.6" fill="url(#g77)"/>
<rect x="444.8" y="219" width="208.7" height="2.6" fill="url(#g78)"/>
<rect x="444.8" y="221" width="208.7" height="2.6" fill="url(#g79)"/>
<rect x="444.8" y="223" width="208.7" height="2.6" fill="url(#g80)"/>
<rect x="444.8" y="225" width="208.7" height="2.6" fill="url(#g81)"/>
<rect x="444.8" y="227" width="208.7" height="2.6" fill="url(#g82)"/>
<rect x="444.8" y="229" width="208.7" height="2.6" fill="url(#g83)"/>
<rect x="444.8" y="231" width="208.7" height="2.6" fill="url(#g84)"/>
<rect x="444.8" y="233" width="208.7" height="2.6" fill="url(#g85)"/>
<rect x="444.8" y="235" width="208.7" height="2.6" fill="url(#g86)"/>
<rect x="444.8" y="237" width="208.7" height="2.6" fill="url(#g87)"/>
<rect x="444.8" y="239" width="208.7" height="2.6" fill="url(#g88)"/>
<rect x="444.8" y="241" width="208.7" height="2.6" fill="url(#g89)"/>
<rect x="444.8" y="243" width="208.7" height="2.6" fill="url(#g90)"/>
<rect x="444.8" y="245" width="208.7" height="2.6" fill="url(#g91)"/>
<rect x="444.8" y="247" width="208.7" height="2.6" fill="url(#g92)"/>
<rect x="444.8" y="249" width="208.7" height="2.6" fill="url(#g93)"/>
<rect x="444.8" y="251" width="208.7" height="2.6" fill="url(#g94)"/>
<rect x="444.8" y="253" width="208.7" height="2.6" fill="url(#g95)"/>
<rect x="444.8" y="255" width="208.7" height="2.6" fill="url(#g96)"/>
<rect x="444.8" y="257" width="208.7" height="2.6" fill="url(#g97)"/>
<rect x="444.8" y="259" width="208.7" height="2.6" fill="url(#g98)"/>
<rect x="444.8" y="261" width="208.7" height="2.6" fill="url(#g99)"/>
<rect x="444.8" y="263" width="208.7" height="2.6" fill="url(#g100)"/>
<rect x="444.8" y="265" width="208.7" height="2.6" fill="url(#g101)"/>
<rect x="444.8" y="267" width="208.7" height="2.6" fill="url(#g102)"/>
<rect x="444.8" y="269" width="208.7" height="2.6" fill="url(#g103)"/>
<rect x="444.8" y="271" width="208.7" height="2" fill="url(#g104)"/>
<path d="M444.8 104.7L445.8 106.3 446.9 108 447.9 109.7 449 111.3 450 113 451.1 114.6 452.1 116.3 453.1 117.9 454.2 119.6 455.2 121.2 456.3 122.9 457.3 124.5 458.4 126.2 459.4 127.8 460.5 129.4 461.5 131.1 462.5 132.7 463.6 134.3 464.6 136 465.7 137.6 466.7 139.2 467.8 140.8 468.8 142.4 469.8 144.1 470.9 145.7 471.9 147.3 473 148.9 474 150.5 475.1 152.1 476.1 153.7 477.1 155.3 478.2 156.9 479.2 158.5 480.3 160.1 481.3 161.7 482.4 163.2 483.4 164.8 484.5 166.4 485.5 168 486.5 169.6 487.6 171.1 488.6 172.7 489.7 174.3 490.7 175.8 491.8 177.4 492.8 179 493.8 180.5 494.9 182.1 495.9 183.6 497 185.2 498 186.8 499.1 188.3 500.1 189.8 501.1 191.4 502.2 192.9 503.2 194.5 504.3 196 505.3 197.5 506.4 199.1 507.4 200.6 508.5 202.1 509.5 203.7 510.5 205.2 511.6 206.7 512.6 208.2 513.7 209.7 514.7 211.3 515.8 212.8 516.8 214.3 517.8 215.8 518.9 217.3 519.9 218.8 521 220.3 522 221.8 523.1 223.3 524.1 224.8 525.1 226.3 526.2 227.8 527.2 229.3 528.3 230.7 529.3 232.2 530.4 233.7 531.4 235.2 532.5 236.7 533.5 238.1 534.5 239.6 535.6 241.1 536.6 242.6 537.7 244 538.7 245.5 539.8 246.9 540.8 248.4 541.8 249.9 542.9 251.3 543.9 252.8 545 254.2 546 255.7 547.1 257.1 548.1 258.6 549.1 260 550.2 261.4 551.2 262.9 552.3 264.3 553.3 265.7 554.4 267.2 555.4 268.6 556.5 270 557.5 271.5 558.5 272.9" fill="none" stroke="#1a1a1a" stroke-width="0.75"/>
<path d="M517.8 63.7L518.9 65.3 519.9 66.8 521 68.4 522 70 523.1 71.5 524.1 73 525.1 74.6 526.2 76.1 527.2 77.7 528.3 79.2 529.3 80.8 530.4 82.3 531.4 83.8 532.5 85.3 533.5 86.9 534.5 88.4 535.6 89.9 536.6 91.5 537.7 93 538.7 94.5 539.8 96 540.8 97.5 541.8 99 542.9 100.5 543.9 102.1 545 103.6 546 105.1 547.1 106.6 548.1 108.1 549.1 109.6 550.2 111.1 551.2 112.6 552.3 114.1 553.3 115.5 554.4 117 555.4 118.5 556.5 120 557.5 121.5 558.5 123 559.6 124.4 560.6 125.9 561.7 127.4 562.7 128.9 563.8 130.3 564.8 131.8 565.8 133.3 566.9 134.7 567.9 136.2 569 137.7 570 139.1 571.1 140.6 572.1 142 573.2 143.5 574.2 144.9 575.2 146.4 576.3 147.8 577.3 149.3 578.4 150.7 579.4 152.2 580.5 153.6 581.5 155 582.5 156.5 583.6 157.9 584.6 159.4 585.7 160.8 586.7 162.2 587.8 163.6 588.8 165.1 589.8 166.5 590.9 167.9 591.9 169.3 593 170.7 594 172.2 595.1 173.6 596.1 175 597.2 176.4 598.2 177.8 599.2 179.2 600.3 180.6 601.3 182 602.4 183.4 603.4 184.8 604.5 186.2 605.5 187.6 606.5 189 607.6 190.4 608.6 191.8 609.7 193.2 610.7 194.5 611.8 195.9 612.8 197.3 613.8 198.7 614.9 200.1 615.9 201.4 617 202.8 618 204.2 619.1 205.6 620.1 206.9 621.2 208.3 622.2 209.7 623.2 211 624.3 212.4 625.3 213.7 626.4 215.1 627.4 216.4 628.5 217.8 629.5 219.2 630.5 220.5 631.6 221.8 632.6 223.2 633.7 224.5 634.7 225.9 635.8 227.2 636.8 228.6 637.8 229.9 638.9 231.2 639.9 232.6 641 233.9 642 235.2 643.1 236.6 644.1 237.9 645.2 239.2 646.2 240.5 647.2 241.9 648.3 243.2 649.3 244.5 650.4 245.8 651.4 247.1 652.5 248.4 653.5 249.7" fill="none" stroke="#1a1a1a" stroke-width="0.75"/>
<path d="M612.8 63.8L613.8 65.3 614.9 66.7 615.9 68.1 617 69.5 618 71 619.1 72.4 620.1 73.8 621.2 75.2 622.2 76.6 623.2 78 624.3 79.5 625.3 80.9 626.4 82.3 627.4 83.7 628.5 85.1 629.5 86.5 630.5 87.9 631.6 89.3 632.6 90.7 633.7 92.1 634.7 93.5 635.8 94.9 636.8 96.3 637.8 97.7 638.9 99.1 639.9 100.4 641 101.8 642 103.2 643.1 104.6 644.1 106 645.2 107.4 646.2 108.7 647.2 110.1 648.3 111.5 649.3 112.8 650.4 114.2 651.4 115.6 652.5 117 653.5 118.3" fill="none" stroke="#1a1a1a" stroke-width="0.75"/>
<rect x="495.8" y="185.4" width="7.2" height="7" fill="#fff" stroke="#111" stroke-width="0.75"/>
<text x="499.4" y="190.8" font-family="Liberation Sans" font-size="5" fill="#222" text-anchor="middle" textLength="4.6" lengthAdjust="spacingAndGlyphs">10</text>
<rect x="578.2" y="153.4" width="7.2" height="7" fill="#fff" stroke="#111" stroke-width="0.75"/>
<text x="581.8" y="158.8" font-family="Liberation Sans" font-size="5" fill="#222" text-anchor="middle" textLength="4.6" lengthAdjust="spacingAndGlyphs">15</text>
<rect x="629" y="85.5" width="7.2" height="7" fill="#fff" stroke="#111" stroke-width="0.75"/>
<text x="632.6" y="90.9" font-family="Liberation Sans" font-size="5" fill="#222" text-anchor="middle" textLength="4.6" lengthAdjust="spacingAndGlyphs">20</text>
<rect x="444.8" y="63.3" width="208.7" height="209.7" fill="none" stroke="#555" stroke-width="0.8"/>
<path d="M444.8 273V277M444.8 63.3H440.8M486.5 273V277M444.8 105.2H440.8M528.3 273V277M444.8 147.2H440.8M570 273V277M444.8 189.1H440.8M611.8 273V277M444.8 231.1H440.8M653.5 273V277M444.8 273H440.8" stroke="#444" stroke-width="0.7"/>
<text x="444.8" y="285" font-family="Liberation Serif" font-size="5.6" fill="#222" text-anchor="middle">0.75</text>
<text x="486.5" y="285" font-family="Liberation Serif" font-size="5.6" fill="#222" text-anchor="middle">1</text>
<text x="528.3" y="285" font-family="Liberation Serif" font-size="5.6" fill="#222" text-anchor="middle">1.25</text>
<text x="570" y="285" font-family="Liberation Serif" font-size="5.6" fill="#222" text-anchor="middle">1.5</text>
<text x="611.8" y="285" font-family="Liberation Serif" font-size="5.6" fill="#222" text-anchor="middle">1.75</text>
<text x="653.5" y="285" font-family="Liberation Serif" font-size="5.6" fill="#222" text-anchor="middle">2</text>
<text x="438.6" y="62.2" font-family="Liberation Serif" font-size="5.6" fill="#222" text-anchor="end">343</text>
<text x="438.6" y="104.1" font-family="Liberation Serif" font-size="5.6" fill="#222" text-anchor="end">334</text>
<text x="438.6" y="146.1" font-family="Liberation Serif" font-size="5.6" fill="#222" text-anchor="end">325</text>
<text x="438.6" y="188" font-family="Liberation Serif" font-size="5.6" fill="#222" text-anchor="end">316</text>
<text x="438.6" y="230" font-family="Liberation Serif" font-size="5.6" fill="#222" text-anchor="end">307</text>
<text x="438.6" y="271.9" font-family="Liberation Serif" font-size="5.6" fill="#222" text-anchor="end">298</text>
<text x="548.5" y="301.2" font-family="Liberation Sans" font-size="6.5" fill="#333" text-anchor="middle" textLength="95" lengthAdjust="spacingAndGlyphs">A: Leachant Concentration (mol/L)</text>
<text x="549.2" y="60.3" font-family="Liberation Sans" font-size="6.8" fill="#333" text-anchor="middle" textLength="34.4" lengthAdjust="spacingAndGlyphs">REE (mg/L)</text>
<text transform="translate(411.9,168.2) rotate(-90)" font-family="Liberation Sans" font-size="6.3" fill="#333" text-anchor="middle" textLength="31.5" lengthAdjust="spacingAndGlyphs">B: Temp (k)</text>
<circle cx="444.8" cy="63.3" r="2.3" fill="#a00000" stroke="#600" stroke-width="0.4"/>
<circle cx="444.8" cy="273.0" r="2.3" fill="#a00000" stroke="#600" stroke-width="0.4"/>
<circle cx="653.5" cy="273.0" r="2.3" fill="#a00000" stroke="#600" stroke-width="0.4"/>
<circle cx="653.9" cy="63.5" r="2.3" fill="#7a7a7a" stroke="#333" stroke-width="0.7"/>
<rect x="607.8" y="71.8" width="45.5" height="7.4" fill="#fff" stroke="#888" stroke-width="0.5"/>
<text x="609" y="77.6" font-family="Liberation Sans" font-size="5" fill="#333" text-anchor="start" textLength="43" lengthAdjust="spacingAndGlyphs">Prediction: 22.2183</text>
<ellipse cx="643.2" cy="61.3" rx="19.2" ry="14.4" fill="none" stroke="#1a1a1a" stroke-width="1"/>
<rect x="270.3" y="48" width="129.7" height="52.6" fill="url(#cb)" stroke="#eea07c" stroke-width="0.6"/>
<text x="335.3" y="60.8" font-family="Liberation Serif" font-size="9.4" font-weight="bold" fill="#1e1a18" text-anchor="middle" textLength="113.4" lengthAdjust="spacingAndGlyphs">Predicted Value=22.09 mg/L</text>
<text x="335.3" y="72.4" font-family="Liberation Serif" font-size="9.4" font-weight="bold" fill="#1e1a18" text-anchor="middle" textLength="113.2" lengthAdjust="spacingAndGlyphs">Observed Value=22.50 mg/L</text>
<text x="335.3" y="84" font-family="Liberation Serif" font-size="9.4" font-weight="bold" fill="#1e1a18" text-anchor="middle" textLength="79.5" lengthAdjust="spacingAndGlyphs">A=2mol/L, B=343K,</text>
<text x="335.3" y="95" font-family="Liberation Serif" font-size="9.4" font-weight="bold" fill="#1e1a18" text-anchor="middle" textLength="41.2" lengthAdjust="spacingAndGlyphs">C=240min</text>
<path d="M175.2 46.1A59.3 43.3 0 0 1 234.5 2.8L234.5 5A50.5 41.1 0 0 0 184 46.1Z" fill="#3360ae" stroke="#2f528f" stroke-width="0.9"/><path d="M234.5 2.8A59.3 43.3 0 0 1 291.9 35.1L299 35.1L289.2 46.6L276.3 35.1L283.2 35.1A50.5 41.1 0 0 0 234.5 5Z" fill="#4472c4" stroke="#2f528f" stroke-width="0.9" stroke-linejoin="round"/>
<path d="M644 46.6A130 45.8 0 0 0 514 0.8L514 2.4A118.3 44.2 0 0 1 632.3 46.6Z" fill="#3360ae" stroke="#2f528f" stroke-width="0.9"/><path d="M514 0.8A130 45.8 0 0 0 388.1 35.2L381.2 35.2L388.7 46.6L404.6 35.2L399.7 35.2A118.3 44.2 0 0 1 514 2.4Z" fill="#4472c4" stroke="#2f528f" stroke-width="0.9" stroke-linejoin="round"/></svg></body></html>
